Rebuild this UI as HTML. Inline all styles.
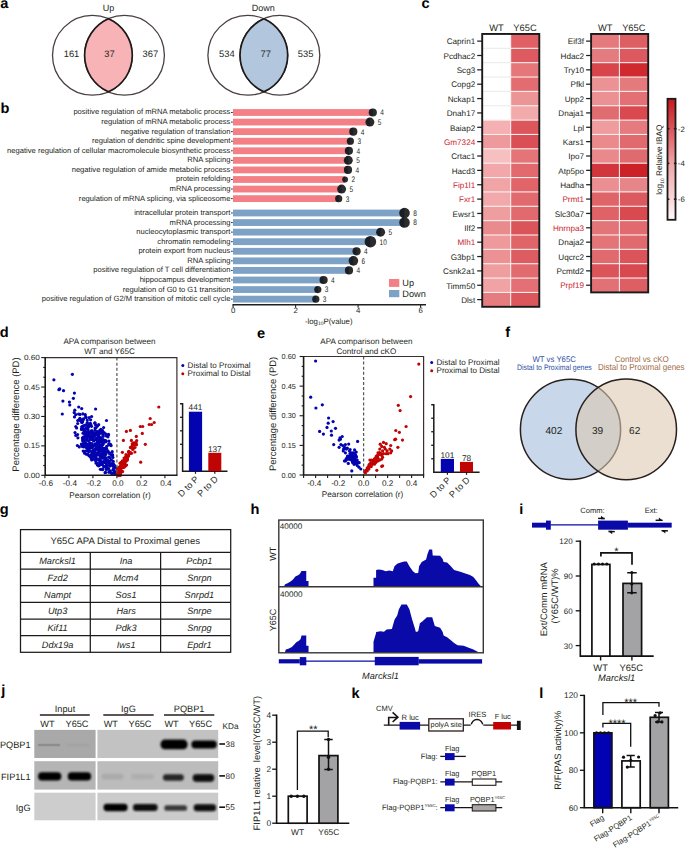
<!DOCTYPE html>
<html><head><meta charset="utf-8"><style>
html,body{margin:0;padding:0;background:#fff;}
svg{display:block;font-family:"Liberation Sans",sans-serif;text-rendering:geometricPrecision;}
</style></head><body>
<svg width="685" height="848" viewBox="0 0 685 848">
<rect width="685" height="848" fill="#fff"/>
<circle cx="92.4" cy="55.3" r="39.9" fill="none" stroke="#4a4040" stroke-width="1.3"/>
<circle cx="124.5" cy="55.3" r="39.9" fill="none" stroke="#4a4040" stroke-width="1.3"/>
<path d="M108.45,18.77 A39.9,39.9 0 0,1 108.45,91.83 A39.9,39.9 0 0,1 108.45,18.77Z" fill="#f8b3b7" stroke="#1e1a1a" stroke-width="1.7"/>
<text x="108.50" y="10.50" font-size="9" text-anchor="middle" fill="#231f20" >Up</text>
<text x="71.50" y="57.20" font-size="9.4" text-anchor="middle" fill="#231f20" >161</text>
<text x="109.50" y="57.20" font-size="9.4" text-anchor="middle" fill="#231f20" >37</text>
<text x="150.40" y="57.20" font-size="9.4" text-anchor="middle" fill="#231f20" >367</text>
<circle cx="247.8" cy="55.3" r="39.9" fill="none" stroke="#4a4040" stroke-width="1.3"/>
<circle cx="279.9" cy="55.3" r="39.9" fill="none" stroke="#4a4040" stroke-width="1.3"/>
<path d="M263.85,18.77 A39.9,39.9 0 0,1 263.85,91.83 A39.9,39.9 0 0,1 263.85,18.77Z" fill="#b2c7dd" stroke="#1e1a1a" stroke-width="1.7"/>
<text x="263.30" y="10.50" font-size="9" text-anchor="middle" fill="#231f20" >Down</text>
<text x="226.90" y="57.20" font-size="9.4" text-anchor="middle" fill="#231f20" >534</text>
<text x="265.70" y="57.20" font-size="9.4" text-anchor="middle" fill="#231f20" >77</text>
<text x="305.70" y="57.20" font-size="9.4" text-anchor="middle" fill="#231f20" >535</text>
<defs><linearGradient id="dg" x1="0" y1="0" x2="1" y2="0"><stop offset="0" stop-color="#1a1f27"/><stop offset="0.46" stop-color="#1a1f27"/><stop offset="0.54" stop-color="#2d2c2c"/><stop offset="1" stop-color="#2d2c2c"/></linearGradient></defs>
<rect x="233.0" y="109.10" width="139.80" height="6.8" fill="#f47f84"/>
<line x1="231.0" y1="112.50" x2="232.8" y2="112.50" stroke="#231f20" stroke-width="0.9"/>
<text x="230.40" y="114.45" font-size="7.6" text-anchor="end" fill="#231f20" >positive regulation of mRNA metabolic process</text>
<circle cx="372.80" cy="112.50" r="4.1" fill="url(#dg)"/>
<text x="380.30" y="115.40" font-size="8.1" fill="#231f20" transform="translate(380.30,0) scale(0.8,1) translate(-380.30,0)">4</text>
<rect x="233.0" y="118.67" width="136.90" height="6.8" fill="#f47f84"/>
<line x1="231.0" y1="122.07" x2="232.8" y2="122.07" stroke="#231f20" stroke-width="0.9"/>
<text x="230.40" y="124.02" font-size="7.6" text-anchor="end" fill="#231f20" >regulation of mRNA metabolic process</text>
<circle cx="369.90" cy="122.07" r="4.5" fill="url(#dg)"/>
<text x="377.80" y="124.97" font-size="8.1" fill="#231f20" transform="translate(377.80,0) scale(0.8,1) translate(-377.80,0)">5</text>
<rect x="233.0" y="128.24" width="120.30" height="6.8" fill="#f47f84"/>
<line x1="231.0" y1="131.64" x2="232.8" y2="131.64" stroke="#231f20" stroke-width="0.9"/>
<text x="230.40" y="133.59" font-size="7.6" text-anchor="end" fill="#231f20" >negative regulation of translation</text>
<circle cx="353.30" cy="131.64" r="4.1" fill="url(#dg)"/>
<text x="360.80" y="134.54" font-size="8.1" fill="#231f20" transform="translate(360.80,0) scale(0.8,1) translate(-360.80,0)">4</text>
<rect x="233.0" y="137.81" width="117.40" height="6.8" fill="#f47f84"/>
<line x1="231.0" y1="141.21" x2="232.8" y2="141.21" stroke="#231f20" stroke-width="0.9"/>
<text x="230.40" y="143.16" font-size="7.6" text-anchor="end" fill="#231f20" >regulation of dendritic spine development</text>
<circle cx="350.40" cy="141.21" r="3.6" fill="url(#dg)"/>
<text x="357.40" y="144.11" font-size="8.1" fill="#231f20" transform="translate(357.40,0) scale(0.8,1) translate(-357.40,0)">3</text>
<rect x="233.0" y="147.38" width="115.90" height="6.8" fill="#f47f84"/>
<line x1="231.0" y1="150.78" x2="232.8" y2="150.78" stroke="#231f20" stroke-width="0.9"/>
<text x="230.40" y="152.73" font-size="7.6" text-anchor="end" fill="#231f20" >negative regulation of cellular macromolecule biosynthetic process</text>
<circle cx="348.90" cy="150.78" r="4.1" fill="url(#dg)"/>
<text x="356.40" y="153.68" font-size="8.1" fill="#231f20" transform="translate(356.40,0) scale(0.8,1) translate(-356.40,0)">4</text>
<rect x="233.0" y="156.95" width="115.30" height="6.8" fill="#f47f84"/>
<line x1="231.0" y1="160.35" x2="232.8" y2="160.35" stroke="#231f20" stroke-width="0.9"/>
<text x="230.40" y="162.30" font-size="7.6" text-anchor="end" fill="#231f20" >RNA splicing</text>
<circle cx="348.30" cy="160.35" r="4.5" fill="url(#dg)"/>
<text x="356.20" y="163.25" font-size="8.1" fill="#231f20" transform="translate(356.20,0) scale(0.8,1) translate(-356.20,0)">5</text>
<rect x="233.0" y="166.52" width="115.00" height="6.8" fill="#f47f84"/>
<line x1="231.0" y1="169.92" x2="232.8" y2="169.92" stroke="#231f20" stroke-width="0.9"/>
<text x="230.40" y="171.87" font-size="7.6" text-anchor="end" fill="#231f20" >negative regulation of amide metabolic process</text>
<circle cx="348.00" cy="169.92" r="4.1" fill="url(#dg)"/>
<text x="355.50" y="172.82" font-size="8.1" fill="#231f20" transform="translate(355.50,0) scale(0.8,1) translate(-355.50,0)">4</text>
<rect x="233.0" y="176.09" width="112.10" height="6.8" fill="#f47f84"/>
<line x1="231.0" y1="179.49" x2="232.8" y2="179.49" stroke="#231f20" stroke-width="0.9"/>
<text x="230.40" y="181.44" font-size="7.6" text-anchor="end" fill="#231f20" >protein refolding</text>
<circle cx="345.10" cy="179.49" r="2.9" fill="url(#dg)"/>
<text x="351.40" y="182.39" font-size="8.1" fill="#231f20" transform="translate(351.40,0) scale(0.8,1) translate(-351.40,0)">2</text>
<rect x="233.0" y="185.66" width="108.60" height="6.8" fill="#f47f84"/>
<line x1="231.0" y1="189.06" x2="232.8" y2="189.06" stroke="#231f20" stroke-width="0.9"/>
<text x="230.40" y="191.01" font-size="7.6" text-anchor="end" fill="#231f20" >mRNA processing</text>
<circle cx="341.60" cy="189.06" r="4.5" fill="url(#dg)"/>
<text x="349.50" y="191.96" font-size="8.1" fill="#231f20" transform="translate(349.50,0) scale(0.8,1) translate(-349.50,0)">5</text>
<rect x="233.0" y="195.23" width="105.70" height="6.8" fill="#f47f84"/>
<line x1="231.0" y1="198.63" x2="232.8" y2="198.63" stroke="#231f20" stroke-width="0.9"/>
<text x="230.40" y="200.58" font-size="7.6" text-anchor="end" fill="#231f20" >regulation of mRNA splicing, via spliceosome</text>
<circle cx="338.70" cy="198.63" r="3.6" fill="url(#dg)"/>
<text x="345.70" y="201.53" font-size="8.1" fill="#231f20" transform="translate(345.70,0) scale(0.8,1) translate(-345.70,0)">3</text>
<rect x="233.0" y="209.60" width="171.50" height="6.8" fill="#7ea2c6"/>
<line x1="231.0" y1="213.00" x2="232.8" y2="213.00" stroke="#231f20" stroke-width="0.9"/>
<text x="230.40" y="214.95" font-size="7.6" text-anchor="end" fill="#231f20" >intracellular protein transport</text>
<circle cx="404.50" cy="213.00" r="5.3" fill="url(#dg)"/>
<text x="413.20" y="215.90" font-size="8.1" fill="#231f20" transform="translate(413.20,0) scale(0.8,1) translate(-413.20,0)">8</text>
<rect x="233.0" y="219.17" width="171.50" height="6.8" fill="#7ea2c6"/>
<line x1="231.0" y1="222.57" x2="232.8" y2="222.57" stroke="#231f20" stroke-width="0.9"/>
<text x="230.40" y="224.52" font-size="7.6" text-anchor="end" fill="#231f20" >mRNA processing</text>
<circle cx="404.50" cy="222.57" r="5.3" fill="url(#dg)"/>
<text x="413.20" y="225.47" font-size="8.1" fill="#231f20" transform="translate(413.20,0) scale(0.8,1) translate(-413.20,0)">8</text>
<rect x="233.0" y="228.74" width="147.60" height="6.8" fill="#7ea2c6"/>
<line x1="231.0" y1="232.14" x2="232.8" y2="232.14" stroke="#231f20" stroke-width="0.9"/>
<text x="230.40" y="234.09" font-size="7.6" text-anchor="end" fill="#231f20" >nucleocytoplasmic transport</text>
<circle cx="380.60" cy="232.14" r="4.5" fill="url(#dg)"/>
<text x="388.50" y="235.04" font-size="8.1" fill="#231f20" transform="translate(388.50,0) scale(0.8,1) translate(-388.50,0)">5</text>
<rect x="233.0" y="238.31" width="137.40" height="6.8" fill="#7ea2c6"/>
<line x1="231.0" y1="241.71" x2="232.8" y2="241.71" stroke="#231f20" stroke-width="0.9"/>
<text x="230.40" y="243.66" font-size="7.6" text-anchor="end" fill="#231f20" >chromatin remodeling</text>
<circle cx="370.40" cy="241.71" r="5.8" fill="url(#dg)"/>
<text x="379.60" y="244.61" font-size="8.1" fill="#231f20" transform="translate(379.60,0) scale(0.8,1) translate(-379.60,0)">10</text>
<rect x="233.0" y="247.88" width="123.60" height="6.8" fill="#7ea2c6"/>
<line x1="231.0" y1="251.28" x2="232.8" y2="251.28" stroke="#231f20" stroke-width="0.9"/>
<text x="230.40" y="253.23" font-size="7.6" text-anchor="end" fill="#231f20" >protein export from nucleus</text>
<circle cx="356.60" cy="251.28" r="4.1" fill="url(#dg)"/>
<text x="364.10" y="254.18" font-size="8.1" fill="#231f20" transform="translate(364.10,0) scale(0.8,1) translate(-364.10,0)">4</text>
<rect x="233.0" y="257.45" width="120.40" height="6.8" fill="#7ea2c6"/>
<line x1="231.0" y1="260.85" x2="232.8" y2="260.85" stroke="#231f20" stroke-width="0.9"/>
<text x="230.40" y="262.80" font-size="7.6" text-anchor="end" fill="#231f20" >RNA splicing</text>
<circle cx="353.40" cy="260.85" r="4.8" fill="url(#dg)"/>
<text x="361.60" y="263.75" font-size="8.1" fill="#231f20" transform="translate(361.60,0) scale(0.8,1) translate(-361.60,0)">6</text>
<rect x="233.0" y="267.02" width="116.00" height="6.8" fill="#7ea2c6"/>
<line x1="231.0" y1="270.42" x2="232.8" y2="270.42" stroke="#231f20" stroke-width="0.9"/>
<text x="230.40" y="272.37" font-size="7.6" text-anchor="end" fill="#231f20" >positive regulation of T cell differentiation</text>
<circle cx="349.00" cy="270.42" r="4.1" fill="url(#dg)"/>
<text x="356.50" y="273.32" font-size="8.1" fill="#231f20" transform="translate(356.50,0) scale(0.8,1) translate(-356.50,0)">4</text>
<rect x="233.0" y="276.59" width="90.60" height="6.8" fill="#7ea2c6"/>
<line x1="231.0" y1="279.99" x2="232.8" y2="279.99" stroke="#231f20" stroke-width="0.9"/>
<text x="230.40" y="281.94" font-size="7.6" text-anchor="end" fill="#231f20" >hippocampus development</text>
<circle cx="323.60" cy="279.99" r="4.1" fill="url(#dg)"/>
<text x="331.10" y="282.89" font-size="8.1" fill="#231f20" transform="translate(331.10,0) scale(0.8,1) translate(-331.10,0)">4</text>
<rect x="233.0" y="286.16" width="84.80" height="6.8" fill="#7ea2c6"/>
<line x1="231.0" y1="289.56" x2="232.8" y2="289.56" stroke="#231f20" stroke-width="0.9"/>
<text x="230.40" y="291.51" font-size="7.6" text-anchor="end" fill="#231f20" >regulation of G0 to G1 transition</text>
<circle cx="317.80" cy="289.56" r="3.6" fill="url(#dg)"/>
<text x="324.80" y="292.46" font-size="8.1" fill="#231f20" transform="translate(324.80,0) scale(0.8,1) translate(-324.80,0)">3</text>
<rect x="233.0" y="295.73" width="82.80" height="6.8" fill="#7ea2c6"/>
<line x1="231.0" y1="299.13" x2="232.8" y2="299.13" stroke="#231f20" stroke-width="0.9"/>
<text x="230.40" y="301.08" font-size="7.6" text-anchor="end" fill="#231f20" >positive regulation of G2/M transition of mitotic cell cycle</text>
<circle cx="315.80" cy="299.13" r="3.6" fill="url(#dg)"/>
<text x="322.80" y="302.03" font-size="8.1" fill="#231f20" transform="translate(322.80,0) scale(0.8,1) translate(-322.80,0)">3</text>
<line x1="232.5" y1="304.7" x2="426" y2="304.7" stroke="#231f20" stroke-width="1.6"/>
<line x1="233" y1="208" x2="233" y2="304.3" stroke="#231f20" stroke-width="0"/>
<line x1="233.10" y1="304.7" x2="233.10" y2="307.8" stroke="#231f20" stroke-width="1.1"/>
<text x="233.10" y="313.30" font-size="7.8" text-anchor="middle" fill="#231f20" >0</text>
<line x1="295.60" y1="304.7" x2="295.60" y2="307.8" stroke="#231f20" stroke-width="1.1"/>
<text x="295.60" y="313.30" font-size="7.8" text-anchor="middle" fill="#231f20" >2</text>
<line x1="358.10" y1="304.7" x2="358.10" y2="307.8" stroke="#231f20" stroke-width="1.1"/>
<text x="358.10" y="313.30" font-size="7.8" text-anchor="middle" fill="#231f20" >4</text>
<line x1="420.60" y1="304.7" x2="420.60" y2="307.8" stroke="#231f20" stroke-width="1.1"/>
<text x="420.60" y="313.30" font-size="7.8" text-anchor="middle" fill="#231f20" >6</text>
<text x="328.70" y="323.50" font-size="7.8" text-anchor="middle" fill="#231f20" >-log<tspan font-size="5" dy="1.8">10</tspan><tspan dy="-1.8">P(value)</tspan></text>
<rect x="389" y="279" width="10.3" height="7.9" fill="#f47f84"/>
<rect x="389" y="290" width="10.3" height="7.2" fill="#7ea2c6"/>
<text x="402.30" y="286.30" font-size="9.2" text-anchor="start" fill="#231f20" >Up</text>
<text x="402.30" y="297.30" font-size="9.2" text-anchor="start" fill="#231f20" >Down</text>
<rect x="482.20" y="33.95" width="28.50" height="14.36" fill="#ffffff"/>
<rect x="510.70" y="33.95" width="28.60" height="14.36" fill="#e06066"/>
<line x1="477.20" y1="41.13" x2="482.20" y2="41.13" stroke="#231f20" stroke-width="1.25"/>
<text x="475.20" y="44.38" font-size="8.15" text-anchor="end" fill="#231f20" >Caprin1</text>
<rect x="482.20" y="48.31" width="28.50" height="14.36" fill="#ffffff"/>
<rect x="510.70" y="48.31" width="28.60" height="14.36" fill="#dc5a60"/>
<line x1="477.20" y1="55.49" x2="482.20" y2="55.49" stroke="#231f20" stroke-width="1.25"/>
<text x="475.20" y="58.74" font-size="8.15" text-anchor="end" fill="#231f20" >Pcdhac2</text>
<rect x="482.20" y="62.67" width="28.50" height="14.36" fill="#ffffff"/>
<rect x="510.70" y="62.67" width="28.60" height="14.36" fill="#e5767a"/>
<line x1="477.20" y1="69.85" x2="482.20" y2="69.85" stroke="#231f20" stroke-width="1.25"/>
<text x="475.20" y="73.10" font-size="8.15" text-anchor="end" fill="#231f20" >Scg3</text>
<rect x="482.20" y="77.03" width="28.50" height="14.36" fill="#ffffff"/>
<rect x="510.70" y="77.03" width="28.60" height="14.36" fill="#e26c70"/>
<line x1="477.20" y1="84.21" x2="482.20" y2="84.21" stroke="#231f20" stroke-width="1.25"/>
<text x="475.20" y="87.46" font-size="8.15" text-anchor="end" fill="#231f20" >Copg2</text>
<rect x="482.20" y="91.39" width="28.50" height="14.36" fill="#ffffff"/>
<rect x="510.70" y="91.39" width="28.60" height="14.36" fill="#ec9597"/>
<line x1="477.20" y1="98.57" x2="482.20" y2="98.57" stroke="#231f20" stroke-width="1.25"/>
<text x="475.20" y="101.82" font-size="8.15" text-anchor="end" fill="#231f20" >Nckap1</text>
<rect x="482.20" y="105.75" width="28.50" height="14.36" fill="#ffffff"/>
<rect x="510.70" y="105.75" width="28.60" height="14.36" fill="#f2aaab"/>
<line x1="477.20" y1="112.93" x2="482.20" y2="112.93" stroke="#231f20" stroke-width="1.25"/>
<text x="475.20" y="116.18" font-size="8.15" text-anchor="end" fill="#231f20" >Dnah17</text>
<rect x="482.20" y="120.11" width="28.50" height="14.36" fill="#f4b0b2"/>
<rect x="510.70" y="120.11" width="28.60" height="14.36" fill="#db575c"/>
<line x1="477.20" y1="127.29" x2="482.20" y2="127.29" stroke="#231f20" stroke-width="1.25"/>
<text x="475.20" y="130.54" font-size="8.15" text-anchor="end" fill="#231f20" >Baiap2</text>
<rect x="482.20" y="134.47" width="28.50" height="14.36" fill="#ee999b"/>
<rect x="510.70" y="134.47" width="28.60" height="14.36" fill="#d94f55"/>
<line x1="477.20" y1="141.65" x2="482.20" y2="141.65" stroke="#231f20" stroke-width="1.25"/>
<text x="475.20" y="144.90" font-size="8.15" text-anchor="end" fill="#c9252c" >Gm7324</text>
<rect x="482.20" y="148.83" width="28.50" height="14.36" fill="#f6c0c1"/>
<rect x="510.70" y="148.83" width="28.60" height="14.36" fill="#e57478"/>
<line x1="477.20" y1="156.01" x2="482.20" y2="156.01" stroke="#231f20" stroke-width="1.25"/>
<text x="475.20" y="159.26" font-size="8.15" text-anchor="end" fill="#231f20" >Crtac1</text>
<rect x="482.20" y="163.19" width="28.50" height="14.36" fill="#f2a8aa"/>
<rect x="510.70" y="163.19" width="28.60" height="14.36" fill="#e26a6e"/>
<line x1="477.20" y1="170.38" x2="482.20" y2="170.38" stroke="#231f20" stroke-width="1.25"/>
<text x="475.20" y="173.62" font-size="8.15" text-anchor="end" fill="#231f20" >Hacd3</text>
<rect x="482.20" y="177.56" width="28.50" height="14.36" fill="#f1a4a6"/>
<rect x="510.70" y="177.56" width="28.60" height="14.36" fill="#e06468"/>
<line x1="477.20" y1="184.74" x2="482.20" y2="184.74" stroke="#231f20" stroke-width="1.25"/>
<text x="475.20" y="187.99" font-size="8.15" text-anchor="end" fill="#c9252c" >Fip1l1</text>
<rect x="482.20" y="191.92" width="28.50" height="14.36" fill="#f2a9ab"/>
<rect x="510.70" y="191.92" width="28.60" height="14.36" fill="#e16a6e"/>
<line x1="477.20" y1="199.10" x2="482.20" y2="199.10" stroke="#231f20" stroke-width="1.25"/>
<text x="475.20" y="202.35" font-size="8.15" text-anchor="end" fill="#c9252c" >Fxr1</text>
<rect x="482.20" y="206.28" width="28.50" height="14.36" fill="#ef9ea0"/>
<rect x="510.70" y="206.28" width="28.60" height="14.36" fill="#e16a6e"/>
<line x1="477.20" y1="213.46" x2="482.20" y2="213.46" stroke="#231f20" stroke-width="1.25"/>
<text x="475.20" y="216.71" font-size="8.15" text-anchor="end" fill="#231f20" >Ewsr1</text>
<rect x="482.20" y="220.64" width="28.50" height="14.36" fill="#e98a8d"/>
<rect x="510.70" y="220.64" width="28.60" height="14.36" fill="#da555a"/>
<line x1="477.20" y1="227.82" x2="482.20" y2="227.82" stroke="#231f20" stroke-width="1.25"/>
<text x="475.20" y="231.07" font-size="8.15" text-anchor="end" fill="#231f20" >Ilf2</text>
<rect x="482.20" y="235.00" width="28.50" height="14.36" fill="#ee9a9c"/>
<rect x="510.70" y="235.00" width="28.60" height="14.36" fill="#df6569"/>
<line x1="477.20" y1="242.18" x2="482.20" y2="242.18" stroke="#231f20" stroke-width="1.25"/>
<text x="475.20" y="245.43" font-size="8.15" text-anchor="end" fill="#c9252c" >Mlh1</text>
<rect x="482.20" y="249.36" width="28.50" height="14.36" fill="#ec9295"/>
<rect x="510.70" y="249.36" width="28.60" height="14.36" fill="#dc5c61"/>
<line x1="477.20" y1="256.54" x2="482.20" y2="256.54" stroke="#231f20" stroke-width="1.25"/>
<text x="475.20" y="259.79" font-size="8.15" text-anchor="end" fill="#231f20" >G3bp1</text>
<rect x="482.20" y="263.72" width="28.50" height="14.36" fill="#ef9ea0"/>
<rect x="510.70" y="263.72" width="28.60" height="14.36" fill="#e16b6f"/>
<line x1="477.20" y1="270.90" x2="482.20" y2="270.90" stroke="#231f20" stroke-width="1.25"/>
<text x="475.20" y="274.15" font-size="8.15" text-anchor="end" fill="#231f20" >Csnk2a1</text>
<rect x="482.20" y="278.08" width="28.50" height="14.36" fill="#f0a2a4"/>
<rect x="510.70" y="278.08" width="28.60" height="14.36" fill="#e37074"/>
<line x1="477.20" y1="285.26" x2="482.20" y2="285.26" stroke="#231f20" stroke-width="1.25"/>
<text x="475.20" y="288.51" font-size="8.15" text-anchor="end" fill="#231f20" >Timm50</text>
<rect x="482.20" y="292.44" width="28.50" height="14.36" fill="#e57c80"/>
<rect x="510.70" y="292.44" width="28.60" height="14.36" fill="#db575c"/>
<line x1="477.20" y1="299.62" x2="482.20" y2="299.62" stroke="#231f20" stroke-width="1.25"/>
<text x="475.20" y="302.87" font-size="8.15" text-anchor="end" fill="#231f20" >Dlst</text>
<line x1="482.20" y1="48.31" x2="510.70" y2="48.31" stroke="#ebebeb" stroke-width="1.1"/>
<line x1="510.70" y1="48.31" x2="539.30" y2="48.31" stroke="#fbeeee" stroke-width="1.1"/>
<line x1="482.20" y1="62.67" x2="510.70" y2="62.67" stroke="#ebebeb" stroke-width="1.1"/>
<line x1="510.70" y1="62.67" x2="539.30" y2="62.67" stroke="#fbeeee" stroke-width="1.1"/>
<line x1="482.20" y1="77.03" x2="510.70" y2="77.03" stroke="#ebebeb" stroke-width="1.1"/>
<line x1="510.70" y1="77.03" x2="539.30" y2="77.03" stroke="#fbeeee" stroke-width="1.1"/>
<line x1="482.20" y1="91.39" x2="510.70" y2="91.39" stroke="#ebebeb" stroke-width="1.1"/>
<line x1="510.70" y1="91.39" x2="539.30" y2="91.39" stroke="#fbeeee" stroke-width="1.1"/>
<line x1="482.20" y1="105.75" x2="510.70" y2="105.75" stroke="#ebebeb" stroke-width="1.1"/>
<line x1="510.70" y1="105.75" x2="539.30" y2="105.75" stroke="#fbeeee" stroke-width="1.1"/>
<line x1="482.20" y1="120.11" x2="510.70" y2="120.11" stroke="#fbeeee" stroke-width="1.1"/>
<line x1="510.70" y1="120.11" x2="539.30" y2="120.11" stroke="#fbeeee" stroke-width="1.1"/>
<line x1="482.20" y1="134.47" x2="510.70" y2="134.47" stroke="#fbeeee" stroke-width="1.1"/>
<line x1="510.70" y1="134.47" x2="539.30" y2="134.47" stroke="#fbeeee" stroke-width="1.1"/>
<line x1="482.20" y1="148.83" x2="510.70" y2="148.83" stroke="#fbeeee" stroke-width="1.1"/>
<line x1="510.70" y1="148.83" x2="539.30" y2="148.83" stroke="#fbeeee" stroke-width="1.1"/>
<line x1="482.20" y1="163.19" x2="510.70" y2="163.19" stroke="#fbeeee" stroke-width="1.1"/>
<line x1="510.70" y1="163.19" x2="539.30" y2="163.19" stroke="#fbeeee" stroke-width="1.1"/>
<line x1="482.20" y1="177.56" x2="510.70" y2="177.56" stroke="#fbeeee" stroke-width="1.1"/>
<line x1="510.70" y1="177.56" x2="539.30" y2="177.56" stroke="#fbeeee" stroke-width="1.1"/>
<line x1="482.20" y1="191.92" x2="510.70" y2="191.92" stroke="#fbeeee" stroke-width="1.1"/>
<line x1="510.70" y1="191.92" x2="539.30" y2="191.92" stroke="#fbeeee" stroke-width="1.1"/>
<line x1="482.20" y1="206.28" x2="510.70" y2="206.28" stroke="#fbeeee" stroke-width="1.1"/>
<line x1="510.70" y1="206.28" x2="539.30" y2="206.28" stroke="#fbeeee" stroke-width="1.1"/>
<line x1="482.20" y1="220.64" x2="510.70" y2="220.64" stroke="#fbeeee" stroke-width="1.1"/>
<line x1="510.70" y1="220.64" x2="539.30" y2="220.64" stroke="#fbeeee" stroke-width="1.1"/>
<line x1="482.20" y1="235.00" x2="510.70" y2="235.00" stroke="#fbeeee" stroke-width="1.1"/>
<line x1="510.70" y1="235.00" x2="539.30" y2="235.00" stroke="#fbeeee" stroke-width="1.1"/>
<line x1="482.20" y1="249.36" x2="510.70" y2="249.36" stroke="#fbeeee" stroke-width="1.1"/>
<line x1="510.70" y1="249.36" x2="539.30" y2="249.36" stroke="#fbeeee" stroke-width="1.1"/>
<line x1="482.20" y1="263.72" x2="510.70" y2="263.72" stroke="#fbeeee" stroke-width="1.1"/>
<line x1="510.70" y1="263.72" x2="539.30" y2="263.72" stroke="#fbeeee" stroke-width="1.1"/>
<line x1="482.20" y1="278.08" x2="510.70" y2="278.08" stroke="#fbeeee" stroke-width="1.1"/>
<line x1="510.70" y1="278.08" x2="539.30" y2="278.08" stroke="#fbeeee" stroke-width="1.1"/>
<line x1="482.20" y1="292.44" x2="510.70" y2="292.44" stroke="#fbeeee" stroke-width="1.1"/>
<line x1="510.70" y1="292.44" x2="539.30" y2="292.44" stroke="#fbeeee" stroke-width="1.1"/>
<line x1="510.70" y1="33.95" x2="510.70" y2="306.80" stroke="#fdf3f3" stroke-width="1.0"/>
<rect x="482.20" y="33.95" width="57.10" height="272.85" fill="none" stroke="#1a1a1a" stroke-width="1.9"/>
<text x="496.45" y="31.35" font-size="9.3" text-anchor="middle" fill="#231f20" >WT</text>
<text x="525.00" y="31.35" font-size="9.3" text-anchor="middle" fill="#231f20" >Y65C</text>
<rect x="591.10" y="33.95" width="28.30" height="14.36" fill="#e47a7e"/>
<rect x="619.40" y="33.95" width="28.80" height="14.36" fill="#dd5e63"/>
<line x1="586.10" y1="41.13" x2="591.10" y2="41.13" stroke="#231f20" stroke-width="1.25"/>
<text x="584.10" y="44.38" font-size="8.15" text-anchor="end" fill="#231f20" >Eif3f</text>
<rect x="591.10" y="48.31" width="28.30" height="14.36" fill="#e47b7f"/>
<rect x="619.40" y="48.31" width="28.80" height="14.36" fill="#dc5a5f"/>
<line x1="586.10" y1="55.49" x2="591.10" y2="55.49" stroke="#231f20" stroke-width="1.25"/>
<text x="584.10" y="58.74" font-size="8.15" text-anchor="end" fill="#231f20" >Hdac2</text>
<rect x="591.10" y="62.67" width="28.30" height="14.36" fill="#d8464c"/>
<rect x="619.40" y="62.67" width="28.80" height="14.36" fill="#d02a30"/>
<line x1="586.10" y1="69.85" x2="591.10" y2="69.85" stroke="#231f20" stroke-width="1.25"/>
<text x="584.10" y="73.10" font-size="8.15" text-anchor="end" fill="#231f20" >Try10</text>
<rect x="591.10" y="77.03" width="28.30" height="14.36" fill="#ec9294"/>
<rect x="619.40" y="77.03" width="28.80" height="14.36" fill="#e57a7d"/>
<line x1="586.10" y1="84.20" x2="591.10" y2="84.20" stroke="#231f20" stroke-width="1.25"/>
<text x="584.10" y="87.45" font-size="8.15" text-anchor="end" fill="#231f20" >Pfkl</text>
<rect x="591.10" y="91.38" width="28.30" height="14.36" fill="#eb9093"/>
<rect x="619.40" y="91.38" width="28.80" height="14.36" fill="#e27074"/>
<line x1="586.10" y1="98.56" x2="591.10" y2="98.56" stroke="#231f20" stroke-width="1.25"/>
<text x="584.10" y="101.81" font-size="8.15" text-anchor="end" fill="#231f20" >Upp2</text>
<rect x="591.10" y="105.74" width="28.30" height="14.36" fill="#e06c70"/>
<rect x="619.40" y="105.74" width="28.80" height="14.36" fill="#d9494f"/>
<line x1="586.10" y1="112.92" x2="591.10" y2="112.92" stroke="#231f20" stroke-width="1.25"/>
<text x="584.10" y="116.17" font-size="8.15" text-anchor="end" fill="#231f20" >Dnaja1</text>
<rect x="591.10" y="120.10" width="28.30" height="14.36" fill="#ef9c9e"/>
<rect x="619.40" y="120.10" width="28.80" height="14.36" fill="#e67b7f"/>
<line x1="586.10" y1="127.28" x2="591.10" y2="127.28" stroke="#231f20" stroke-width="1.25"/>
<text x="584.10" y="130.53" font-size="8.15" text-anchor="end" fill="#231f20" >Lpl</text>
<rect x="591.10" y="134.46" width="28.30" height="14.36" fill="#ea8a8d"/>
<rect x="619.40" y="134.46" width="28.80" height="14.36" fill="#e06a6e"/>
<line x1="586.10" y1="141.64" x2="591.10" y2="141.64" stroke="#231f20" stroke-width="1.25"/>
<text x="584.10" y="144.89" font-size="8.15" text-anchor="end" fill="#231f20" >Kars1</text>
<rect x="591.10" y="148.82" width="28.30" height="14.36" fill="#ea898c"/>
<rect x="619.40" y="148.82" width="28.80" height="14.36" fill="#e06b6f"/>
<line x1="586.10" y1="156.00" x2="591.10" y2="156.00" stroke="#231f20" stroke-width="1.25"/>
<text x="584.10" y="159.25" font-size="8.15" text-anchor="end" fill="#231f20" >Ipo7</text>
<rect x="591.10" y="163.18" width="28.30" height="14.36" fill="#d2353b"/>
<rect x="619.40" y="163.18" width="28.80" height="14.36" fill="#cd2128"/>
<line x1="586.10" y1="170.35" x2="591.10" y2="170.35" stroke="#231f20" stroke-width="1.25"/>
<text x="584.10" y="173.60" font-size="8.15" text-anchor="end" fill="#231f20" >Atp5po</text>
<rect x="591.10" y="177.53" width="28.30" height="14.36" fill="#eb8f92"/>
<rect x="619.40" y="177.53" width="28.80" height="14.36" fill="#e7868a"/>
<line x1="586.10" y1="184.71" x2="591.10" y2="184.71" stroke="#231f20" stroke-width="1.25"/>
<text x="584.10" y="187.96" font-size="8.15" text-anchor="end" fill="#231f20" >Hadha</text>
<rect x="591.10" y="191.89" width="28.30" height="14.36" fill="#de6468"/>
<rect x="619.40" y="191.89" width="28.80" height="14.36" fill="#db5a5f"/>
<line x1="586.10" y1="199.07" x2="591.10" y2="199.07" stroke="#231f20" stroke-width="1.25"/>
<text x="584.10" y="202.32" font-size="8.15" text-anchor="end" fill="#c9252c" >Prmt1</text>
<rect x="591.10" y="206.25" width="28.30" height="14.36" fill="#de6266"/>
<rect x="619.40" y="206.25" width="28.80" height="14.36" fill="#d84a50"/>
<line x1="586.10" y1="213.43" x2="591.10" y2="213.43" stroke="#231f20" stroke-width="1.25"/>
<text x="584.10" y="216.68" font-size="8.15" text-anchor="end" fill="#231f20" >Slc30a7</text>
<rect x="591.10" y="220.61" width="28.30" height="14.36" fill="#e37478"/>
<rect x="619.40" y="220.61" width="28.80" height="14.36" fill="#e06a6e"/>
<line x1="586.10" y1="227.79" x2="591.10" y2="227.79" stroke="#231f20" stroke-width="1.25"/>
<text x="584.10" y="231.04" font-size="8.15" text-anchor="end" fill="#c9252c" >Hnrnpa3</text>
<rect x="591.10" y="234.97" width="28.30" height="14.36" fill="#e37579"/>
<rect x="619.40" y="234.97" width="28.80" height="14.36" fill="#e06a6e"/>
<line x1="586.10" y1="242.15" x2="591.10" y2="242.15" stroke="#231f20" stroke-width="1.25"/>
<text x="584.10" y="245.40" font-size="8.15" text-anchor="end" fill="#231f20" >Dnaja2</text>
<rect x="591.10" y="249.32" width="28.30" height="14.36" fill="#e06a6e"/>
<rect x="619.40" y="249.32" width="28.80" height="14.36" fill="#da5459"/>
<line x1="586.10" y1="256.50" x2="591.10" y2="256.50" stroke="#231f20" stroke-width="1.25"/>
<text x="584.10" y="259.75" font-size="8.15" text-anchor="end" fill="#231f20" >Uqcrc2</text>
<rect x="591.10" y="263.68" width="28.30" height="14.36" fill="#da5459"/>
<rect x="619.40" y="263.68" width="28.80" height="14.36" fill="#d8494f"/>
<line x1="586.10" y1="270.86" x2="591.10" y2="270.86" stroke="#231f20" stroke-width="1.25"/>
<text x="584.10" y="274.11" font-size="8.15" text-anchor="end" fill="#231f20" >Pcmtd2</text>
<rect x="591.10" y="278.04" width="28.30" height="14.36" fill="#e27175"/>
<rect x="619.40" y="278.04" width="28.80" height="14.36" fill="#dd5f64"/>
<line x1="586.10" y1="285.22" x2="591.10" y2="285.22" stroke="#231f20" stroke-width="1.25"/>
<text x="584.10" y="288.47" font-size="8.15" text-anchor="end" fill="#c9252c" >Prpf19</text>
<line x1="591.10" y1="48.31" x2="619.40" y2="48.31" stroke="#fbeeee" stroke-width="1.1"/>
<line x1="619.40" y1="48.31" x2="648.20" y2="48.31" stroke="#fbeeee" stroke-width="1.1"/>
<line x1="591.10" y1="62.67" x2="619.40" y2="62.67" stroke="#fbeeee" stroke-width="1.1"/>
<line x1="619.40" y1="62.67" x2="648.20" y2="62.67" stroke="#fbeeee" stroke-width="1.1"/>
<line x1="591.10" y1="77.03" x2="619.40" y2="77.03" stroke="#fbeeee" stroke-width="1.1"/>
<line x1="619.40" y1="77.03" x2="648.20" y2="77.03" stroke="#fbeeee" stroke-width="1.1"/>
<line x1="591.10" y1="91.38" x2="619.40" y2="91.38" stroke="#fbeeee" stroke-width="1.1"/>
<line x1="619.40" y1="91.38" x2="648.20" y2="91.38" stroke="#fbeeee" stroke-width="1.1"/>
<line x1="591.10" y1="105.74" x2="619.40" y2="105.74" stroke="#fbeeee" stroke-width="1.1"/>
<line x1="619.40" y1="105.74" x2="648.20" y2="105.74" stroke="#fbeeee" stroke-width="1.1"/>
<line x1="591.10" y1="120.10" x2="619.40" y2="120.10" stroke="#fbeeee" stroke-width="1.1"/>
<line x1="619.40" y1="120.10" x2="648.20" y2="120.10" stroke="#fbeeee" stroke-width="1.1"/>
<line x1="591.10" y1="134.46" x2="619.40" y2="134.46" stroke="#fbeeee" stroke-width="1.1"/>
<line x1="619.40" y1="134.46" x2="648.20" y2="134.46" stroke="#fbeeee" stroke-width="1.1"/>
<line x1="591.10" y1="148.82" x2="619.40" y2="148.82" stroke="#fbeeee" stroke-width="1.1"/>
<line x1="619.40" y1="148.82" x2="648.20" y2="148.82" stroke="#fbeeee" stroke-width="1.1"/>
<line x1="591.10" y1="163.18" x2="619.40" y2="163.18" stroke="#fbeeee" stroke-width="1.1"/>
<line x1="619.40" y1="163.18" x2="648.20" y2="163.18" stroke="#fbeeee" stroke-width="1.1"/>
<line x1="591.10" y1="177.53" x2="619.40" y2="177.53" stroke="#fbeeee" stroke-width="1.1"/>
<line x1="619.40" y1="177.53" x2="648.20" y2="177.53" stroke="#fbeeee" stroke-width="1.1"/>
<line x1="591.10" y1="191.89" x2="619.40" y2="191.89" stroke="#fbeeee" stroke-width="1.1"/>
<line x1="619.40" y1="191.89" x2="648.20" y2="191.89" stroke="#fbeeee" stroke-width="1.1"/>
<line x1="591.10" y1="206.25" x2="619.40" y2="206.25" stroke="#fbeeee" stroke-width="1.1"/>
<line x1="619.40" y1="206.25" x2="648.20" y2="206.25" stroke="#fbeeee" stroke-width="1.1"/>
<line x1="591.10" y1="220.61" x2="619.40" y2="220.61" stroke="#fbeeee" stroke-width="1.1"/>
<line x1="619.40" y1="220.61" x2="648.20" y2="220.61" stroke="#fbeeee" stroke-width="1.1"/>
<line x1="591.10" y1="234.97" x2="619.40" y2="234.97" stroke="#fbeeee" stroke-width="1.1"/>
<line x1="619.40" y1="234.97" x2="648.20" y2="234.97" stroke="#fbeeee" stroke-width="1.1"/>
<line x1="591.10" y1="249.32" x2="619.40" y2="249.32" stroke="#fbeeee" stroke-width="1.1"/>
<line x1="619.40" y1="249.32" x2="648.20" y2="249.32" stroke="#fbeeee" stroke-width="1.1"/>
<line x1="591.10" y1="263.68" x2="619.40" y2="263.68" stroke="#fbeeee" stroke-width="1.1"/>
<line x1="619.40" y1="263.68" x2="648.20" y2="263.68" stroke="#fbeeee" stroke-width="1.1"/>
<line x1="591.10" y1="278.04" x2="619.40" y2="278.04" stroke="#fbeeee" stroke-width="1.1"/>
<line x1="619.40" y1="278.04" x2="648.20" y2="278.04" stroke="#fbeeee" stroke-width="1.1"/>
<line x1="619.40" y1="33.95" x2="619.40" y2="292.40" stroke="#fdf3f3" stroke-width="1.0"/>
<rect x="591.10" y="33.95" width="57.10" height="258.45" fill="none" stroke="#1a1a1a" stroke-width="1.9"/>
<text x="605.25" y="31.35" font-size="9.3" text-anchor="middle" fill="#231f20" >WT</text>
<text x="633.80" y="31.35" font-size="9.3" text-anchor="middle" fill="#231f20" >Y65C</text>
<defs><linearGradient id="cb" x1="0" y1="0" x2="0" y2="1"><stop offset="0" stop-color="#c8161e"/><stop offset="0.247" stop-color="#d9555b"/><stop offset="0.534" stop-color="#f0a5a8"/><stop offset="0.83" stop-color="#fad7d9"/><stop offset="1" stop-color="#fffafa"/></linearGradient></defs>
<rect x="667.5" y="98.8" width="8" height="121" fill="url(#cb)" stroke="#1a1a1a" stroke-width="1.8"/>
<line x1="667.0" y1="128.7" x2="669.4" y2="128.7" stroke="#1a1a1a" stroke-width="1.5"/>
<line x1="673.9" y1="128.7" x2="676.5" y2="128.7" stroke="#1a1a1a" stroke-width="1.5"/>
<text x="677.80" y="131.50" font-size="7.8" text-anchor="start" fill="#231f20" >-2</text>
<line x1="667.0" y1="163.4" x2="669.4" y2="163.4" stroke="#1a1a1a" stroke-width="1.5"/>
<line x1="673.9" y1="163.4" x2="676.5" y2="163.4" stroke="#1a1a1a" stroke-width="1.5"/>
<text x="677.80" y="166.20" font-size="7.8" text-anchor="start" fill="#231f20" >-4</text>
<line x1="667.0" y1="199.2" x2="669.4" y2="199.2" stroke="#1a1a1a" stroke-width="1.5"/>
<line x1="673.9" y1="199.2" x2="676.5" y2="199.2" stroke="#1a1a1a" stroke-width="1.5"/>
<text x="677.80" y="202.00" font-size="7.8" text-anchor="start" fill="#231f20" >-6</text>
<text transform="translate(662.3,159.7) rotate(-90)" font-size="8.2" text-anchor="middle" fill="#231f20">log<tspan font-size="5" dy="1.8">10</tspan><tspan dy="-1.8"> Relative IBAQ</tspan></text>
<text x="421.50" y="7.90" font-size="14.6" text-anchor="start" fill="#000" font-weight="bold">c</text>
<circle cx="53.9" cy="379.8" r="1.6" fill="#0303b0"/>
<circle cx="72.4" cy="374.3" r="1.6" fill="#0303b0"/>
<circle cx="58.9" cy="389.7" r="1.6" fill="#0303b0"/>
<circle cx="59.7" cy="388.9" r="1.6" fill="#0303b0"/>
<circle cx="63.5" cy="390.7" r="1.6" fill="#0303b0"/>
<circle cx="74.4" cy="393.1" r="1.6" fill="#0303b0"/>
<circle cx="73.4" cy="398.3" r="1.6" fill="#0303b0"/>
<circle cx="62.9" cy="401.1" r="1.6" fill="#0303b0"/>
<circle cx="69.4" cy="402.1" r="1.6" fill="#0303b0"/>
<circle cx="69.8" cy="405.0" r="1.6" fill="#0303b0"/>
<circle cx="62.3" cy="414.0" r="1.6" fill="#0303b0"/>
<circle cx="78.7" cy="407.0" r="1.6" fill="#0303b0"/>
<circle cx="81.7" cy="408.6" r="1.6" fill="#0303b0"/>
<circle cx="95.6" cy="409.0" r="1.6" fill="#0303b0"/>
<circle cx="74.8" cy="410.2" r="1.6" fill="#0303b0"/>
<circle cx="74.2" cy="412.6" r="1.6" fill="#0303b0"/>
<circle cx="75.8" cy="414.6" r="1.6" fill="#0303b0"/>
<circle cx="106.5" cy="420.5" r="1.6" fill="#0303b0"/>
<circle cx="103.6" cy="427.5" r="1.6" fill="#0303b0"/>
<circle cx="108.5" cy="434.4" r="1.6" fill="#0303b0"/>
<circle cx="75.8" cy="426.5" r="1.6" fill="#0303b0"/>
<circle cx="75.8" cy="435.4" r="1.6" fill="#0303b0"/>
<circle cx="91.6" cy="416.5" r="1.6" fill="#0303b0"/>
<circle cx="85.7" cy="416.9" r="1.6" fill="#0303b0"/>
<circle cx="95.1" cy="449.7" r="1.6" fill="#0303b0"/>
<circle cx="104.6" cy="451.7" r="1.6" fill="#0303b0"/>
<circle cx="93.0" cy="456.3" r="1.6" fill="#0303b0"/>
<circle cx="84.1" cy="425.5" r="1.6" fill="#0303b0"/>
<circle cx="108.7" cy="457.2" r="1.6" fill="#0303b0"/>
<circle cx="83.2" cy="444.9" r="1.6" fill="#0303b0"/>
<circle cx="110.1" cy="457.8" r="1.6" fill="#0303b0"/>
<circle cx="99.8" cy="460.0" r="1.6" fill="#0303b0"/>
<circle cx="83.2" cy="451.1" r="1.6" fill="#0303b0"/>
<circle cx="89.0" cy="425.5" r="1.6" fill="#0303b0"/>
<circle cx="88.6" cy="447.8" r="1.6" fill="#0303b0"/>
<circle cx="99.1" cy="445.8" r="1.6" fill="#0303b0"/>
<circle cx="110.5" cy="444.4" r="1.6" fill="#0303b0"/>
<circle cx="91.7" cy="436.0" r="1.6" fill="#0303b0"/>
<circle cx="100.4" cy="441.4" r="1.6" fill="#0303b0"/>
<circle cx="113.8" cy="465.9" r="1.6" fill="#0303b0"/>
<circle cx="79.9" cy="418.3" r="1.6" fill="#0303b0"/>
<circle cx="102.2" cy="445.2" r="1.6" fill="#0303b0"/>
<circle cx="98.7" cy="451.2" r="1.6" fill="#0303b0"/>
<circle cx="93.1" cy="452.1" r="1.6" fill="#0303b0"/>
<circle cx="106.5" cy="448.5" r="1.6" fill="#0303b0"/>
<circle cx="92.5" cy="451.3" r="1.6" fill="#0303b0"/>
<circle cx="93.4" cy="446.3" r="1.6" fill="#0303b0"/>
<circle cx="87.5" cy="428.7" r="1.6" fill="#0303b0"/>
<circle cx="97.6" cy="441.4" r="1.6" fill="#0303b0"/>
<circle cx="100.2" cy="460.2" r="1.6" fill="#0303b0"/>
<circle cx="76.6" cy="428.0" r="1.6" fill="#0303b0"/>
<circle cx="104.7" cy="451.9" r="1.6" fill="#0303b0"/>
<circle cx="95.8" cy="455.7" r="1.6" fill="#0303b0"/>
<circle cx="108.9" cy="472.2" r="1.6" fill="#0303b0"/>
<circle cx="103.9" cy="461.7" r="1.6" fill="#0303b0"/>
<circle cx="109.5" cy="471.9" r="1.6" fill="#0303b0"/>
<circle cx="97.1" cy="431.6" r="1.6" fill="#0303b0"/>
<circle cx="92.2" cy="453.0" r="1.6" fill="#0303b0"/>
<circle cx="103.8" cy="450.6" r="1.6" fill="#0303b0"/>
<circle cx="106.4" cy="448.9" r="1.6" fill="#0303b0"/>
<circle cx="94.7" cy="440.1" r="1.6" fill="#0303b0"/>
<circle cx="86.3" cy="446.5" r="1.6" fill="#0303b0"/>
<circle cx="99.8" cy="450.8" r="1.6" fill="#0303b0"/>
<circle cx="106.4" cy="460.3" r="1.6" fill="#0303b0"/>
<circle cx="87.3" cy="422.6" r="1.6" fill="#0303b0"/>
<circle cx="85.4" cy="451.2" r="1.6" fill="#0303b0"/>
<circle cx="91.3" cy="458.5" r="1.6" fill="#0303b0"/>
<circle cx="102.2" cy="455.5" r="1.6" fill="#0303b0"/>
<circle cx="97.0" cy="433.1" r="1.6" fill="#0303b0"/>
<circle cx="82.5" cy="421.4" r="1.6" fill="#0303b0"/>
<circle cx="79.4" cy="419.5" r="1.6" fill="#0303b0"/>
<circle cx="111.3" cy="463.6" r="1.6" fill="#0303b0"/>
<circle cx="87.1" cy="446.3" r="1.6" fill="#0303b0"/>
<circle cx="106.4" cy="436.0" r="1.6" fill="#0303b0"/>
<circle cx="77.7" cy="420.5" r="1.6" fill="#0303b0"/>
<circle cx="106.2" cy="441.3" r="1.6" fill="#0303b0"/>
<circle cx="97.1" cy="453.8" r="1.6" fill="#0303b0"/>
<circle cx="99.7" cy="465.1" r="1.6" fill="#0303b0"/>
<circle cx="88.8" cy="436.5" r="1.6" fill="#0303b0"/>
<circle cx="103.1" cy="436.0" r="1.6" fill="#0303b0"/>
<circle cx="89.1" cy="449.9" r="1.6" fill="#0303b0"/>
<circle cx="84.2" cy="444.8" r="1.6" fill="#0303b0"/>
<circle cx="97.8" cy="435.1" r="1.6" fill="#0303b0"/>
<circle cx="99.8" cy="437.4" r="1.6" fill="#0303b0"/>
<circle cx="109.5" cy="463.8" r="1.6" fill="#0303b0"/>
<circle cx="98.6" cy="465.8" r="1.6" fill="#0303b0"/>
<circle cx="83.0" cy="433.2" r="1.6" fill="#0303b0"/>
<circle cx="105.5" cy="454.6" r="1.6" fill="#0303b0"/>
<circle cx="95.2" cy="443.9" r="1.6" fill="#0303b0"/>
<circle cx="101.9" cy="451.3" r="1.6" fill="#0303b0"/>
<circle cx="82.7" cy="428.0" r="1.6" fill="#0303b0"/>
<circle cx="102.2" cy="464.2" r="1.6" fill="#0303b0"/>
<circle cx="85.6" cy="437.1" r="1.6" fill="#0303b0"/>
<circle cx="102.4" cy="469.2" r="1.6" fill="#0303b0"/>
<circle cx="101.6" cy="462.0" r="1.6" fill="#0303b0"/>
<circle cx="109.1" cy="443.9" r="1.6" fill="#0303b0"/>
<circle cx="94.6" cy="456.4" r="1.6" fill="#0303b0"/>
<circle cx="87.0" cy="450.5" r="1.6" fill="#0303b0"/>
<circle cx="91.8" cy="447.9" r="1.6" fill="#0303b0"/>
<circle cx="94.0" cy="450.8" r="1.6" fill="#0303b0"/>
<circle cx="100.1" cy="461.4" r="1.6" fill="#0303b0"/>
<circle cx="105.6" cy="440.7" r="1.6" fill="#0303b0"/>
<circle cx="80.0" cy="414.4" r="1.6" fill="#0303b0"/>
<circle cx="89.5" cy="432.5" r="1.6" fill="#0303b0"/>
<circle cx="100.3" cy="456.2" r="1.6" fill="#0303b0"/>
<circle cx="90.3" cy="444.4" r="1.6" fill="#0303b0"/>
<circle cx="94.5" cy="434.4" r="1.6" fill="#0303b0"/>
<circle cx="105.5" cy="448.3" r="1.6" fill="#0303b0"/>
<circle cx="97.0" cy="443.0" r="1.6" fill="#0303b0"/>
<circle cx="83.7" cy="446.9" r="1.6" fill="#0303b0"/>
<circle cx="103.7" cy="466.7" r="1.6" fill="#0303b0"/>
<circle cx="86.3" cy="443.7" r="1.6" fill="#0303b0"/>
<circle cx="108.1" cy="435.3" r="1.6" fill="#0303b0"/>
<circle cx="106.3" cy="465.8" r="1.6" fill="#0303b0"/>
<circle cx="99.1" cy="442.2" r="1.6" fill="#0303b0"/>
<circle cx="86.3" cy="432.5" r="1.6" fill="#0303b0"/>
<circle cx="102.9" cy="450.2" r="1.6" fill="#0303b0"/>
<circle cx="113.3" cy="469.2" r="1.6" fill="#0303b0"/>
<circle cx="101.0" cy="438.3" r="1.6" fill="#0303b0"/>
<circle cx="82.5" cy="437.8" r="1.6" fill="#0303b0"/>
<circle cx="86.3" cy="434.1" r="1.6" fill="#0303b0"/>
<circle cx="93.1" cy="437.6" r="1.6" fill="#0303b0"/>
<circle cx="102.6" cy="448.0" r="1.6" fill="#0303b0"/>
<circle cx="100.5" cy="431.8" r="1.6" fill="#0303b0"/>
<circle cx="87.3" cy="420.1" r="1.6" fill="#0303b0"/>
<circle cx="98.7" cy="442.3" r="1.6" fill="#0303b0"/>
<circle cx="80.0" cy="420.4" r="1.6" fill="#0303b0"/>
<circle cx="102.8" cy="432.3" r="1.6" fill="#0303b0"/>
<circle cx="90.5" cy="424.6" r="1.6" fill="#0303b0"/>
<circle cx="94.6" cy="434.7" r="1.6" fill="#0303b0"/>
<circle cx="90.6" cy="419.8" r="1.6" fill="#0303b0"/>
<circle cx="105.1" cy="453.3" r="1.6" fill="#0303b0"/>
<circle cx="92.4" cy="454.3" r="1.6" fill="#0303b0"/>
<circle cx="99.0" cy="449.2" r="1.6" fill="#0303b0"/>
<circle cx="108.9" cy="462.4" r="1.6" fill="#0303b0"/>
<circle cx="88.7" cy="424.7" r="1.6" fill="#0303b0"/>
<circle cx="99.1" cy="445.7" r="1.6" fill="#0303b0"/>
<circle cx="106.9" cy="461.6" r="1.6" fill="#0303b0"/>
<circle cx="105.3" cy="453.0" r="1.6" fill="#0303b0"/>
<circle cx="106.4" cy="466.3" r="1.6" fill="#0303b0"/>
<circle cx="88.7" cy="434.4" r="1.6" fill="#0303b0"/>
<circle cx="93.6" cy="450.1" r="1.6" fill="#0303b0"/>
<circle cx="87.9" cy="429.5" r="1.6" fill="#0303b0"/>
<circle cx="94.8" cy="423.2" r="1.6" fill="#0303b0"/>
<circle cx="105.0" cy="440.7" r="1.6" fill="#0303b0"/>
<circle cx="96.3" cy="447.2" r="1.6" fill="#0303b0"/>
<circle cx="90.0" cy="432.3" r="1.6" fill="#0303b0"/>
<circle cx="93.9" cy="453.2" r="1.6" fill="#0303b0"/>
<circle cx="81.4" cy="428.9" r="1.6" fill="#0303b0"/>
<circle cx="94.3" cy="449.6" r="1.6" fill="#0303b0"/>
<circle cx="102.9" cy="451.4" r="1.6" fill="#0303b0"/>
<circle cx="107.6" cy="451.6" r="1.6" fill="#0303b0"/>
<circle cx="104.3" cy="432.8" r="1.6" fill="#0303b0"/>
<circle cx="84.6" cy="453.2" r="1.6" fill="#0303b0"/>
<circle cx="104.6" cy="466.7" r="1.6" fill="#0303b0"/>
<circle cx="86.3" cy="454.2" r="1.6" fill="#0303b0"/>
<circle cx="78.6" cy="414.0" r="1.6" fill="#0303b0"/>
<circle cx="100.8" cy="429.3" r="1.6" fill="#0303b0"/>
<circle cx="104.9" cy="462.7" r="1.6" fill="#0303b0"/>
<circle cx="114.6" cy="472.1" r="1.6" fill="#0303b0"/>
<circle cx="103.9" cy="456.6" r="1.6" fill="#0303b0"/>
<circle cx="101.4" cy="445.5" r="1.6" fill="#0303b0"/>
<circle cx="100.2" cy="450.6" r="1.6" fill="#0303b0"/>
<circle cx="97.5" cy="454.1" r="1.6" fill="#0303b0"/>
<circle cx="86.2" cy="428.8" r="1.6" fill="#0303b0"/>
<circle cx="83.4" cy="419.5" r="1.6" fill="#0303b0"/>
<circle cx="106.2" cy="462.3" r="1.6" fill="#0303b0"/>
<circle cx="83.5" cy="443.9" r="1.6" fill="#0303b0"/>
<circle cx="103.8" cy="442.1" r="1.6" fill="#0303b0"/>
<circle cx="114.4" cy="470.9" r="1.6" fill="#0303b0"/>
<circle cx="109.3" cy="461.2" r="1.6" fill="#0303b0"/>
<circle cx="97.9" cy="454.8" r="1.6" fill="#0303b0"/>
<circle cx="92.6" cy="439.2" r="1.6" fill="#0303b0"/>
<circle cx="89.9" cy="446.5" r="1.6" fill="#0303b0"/>
<circle cx="77.4" cy="445.5" r="1.6" fill="#0303b0"/>
<circle cx="113.3" cy="469.9" r="1.6" fill="#0303b0"/>
<circle cx="96.4" cy="438.6" r="1.6" fill="#0303b0"/>
<circle cx="97.8" cy="437.3" r="1.6" fill="#0303b0"/>
<circle cx="75.0" cy="432.6" r="1.6" fill="#0303b0"/>
<circle cx="110.4" cy="470.9" r="1.6" fill="#0303b0"/>
<circle cx="84.1" cy="430.9" r="1.6" fill="#0303b0"/>
<circle cx="88.5" cy="446.5" r="1.6" fill="#0303b0"/>
<circle cx="90.2" cy="438.5" r="1.6" fill="#0303b0"/>
<circle cx="77.9" cy="437.8" r="1.6" fill="#0303b0"/>
<circle cx="99.4" cy="452.0" r="1.6" fill="#0303b0"/>
<circle cx="82.5" cy="446.5" r="1.6" fill="#0303b0"/>
<circle cx="98.7" cy="424.7" r="1.6" fill="#0303b0"/>
<circle cx="97.6" cy="465.0" r="1.6" fill="#0303b0"/>
<circle cx="104.6" cy="451.1" r="1.6" fill="#0303b0"/>
<circle cx="86.2" cy="432.4" r="1.6" fill="#0303b0"/>
<circle cx="104.2" cy="448.3" r="1.6" fill="#0303b0"/>
<circle cx="81.8" cy="422.4" r="1.6" fill="#0303b0"/>
<circle cx="88.4" cy="426.2" r="1.6" fill="#0303b0"/>
<circle cx="97.1" cy="464.1" r="1.6" fill="#0303b0"/>
<circle cx="114.8" cy="474.1" r="1.6" fill="#0303b0"/>
<circle cx="100.4" cy="469.3" r="1.6" fill="#0303b0"/>
<circle cx="111.4" cy="460.0" r="1.6" fill="#0303b0"/>
<circle cx="106.7" cy="465.1" r="1.6" fill="#0303b0"/>
<circle cx="86.1" cy="436.8" r="1.6" fill="#0303b0"/>
<circle cx="87.6" cy="454.2" r="1.6" fill="#0303b0"/>
<circle cx="98.3" cy="442.7" r="1.6" fill="#0303b0"/>
<circle cx="86.2" cy="444.1" r="1.6" fill="#0303b0"/>
<circle cx="87.0" cy="437.6" r="1.6" fill="#0303b0"/>
<circle cx="96.5" cy="434.9" r="1.6" fill="#0303b0"/>
<circle cx="90.7" cy="439.2" r="1.6" fill="#0303b0"/>
<circle cx="85.2" cy="429.4" r="1.6" fill="#0303b0"/>
<circle cx="103.2" cy="439.6" r="1.6" fill="#0303b0"/>
<circle cx="101.8" cy="441.4" r="1.6" fill="#0303b0"/>
<circle cx="102.7" cy="442.7" r="1.6" fill="#0303b0"/>
<circle cx="97.0" cy="440.0" r="1.6" fill="#0303b0"/>
<circle cx="112.9" cy="457.4" r="1.6" fill="#0303b0"/>
<circle cx="100.6" cy="433.2" r="1.6" fill="#0303b0"/>
<circle cx="86.0" cy="417.4" r="1.6" fill="#0303b0"/>
<circle cx="85.9" cy="424.9" r="1.6" fill="#0303b0"/>
<circle cx="84.0" cy="429.7" r="1.6" fill="#0303b0"/>
<circle cx="107.9" cy="450.8" r="1.6" fill="#0303b0"/>
<circle cx="112.2" cy="451.7" r="1.6" fill="#0303b0"/>
<circle cx="88.1" cy="450.8" r="1.6" fill="#0303b0"/>
<circle cx="82.0" cy="421.2" r="1.6" fill="#0303b0"/>
<circle cx="113.4" cy="466.5" r="1.6" fill="#0303b0"/>
<circle cx="81.6" cy="429.4" r="1.6" fill="#0303b0"/>
<circle cx="112.6" cy="473.2" r="1.6" fill="#0303b0"/>
<circle cx="97.9" cy="432.3" r="1.6" fill="#0303b0"/>
<circle cx="102.3" cy="454.0" r="1.6" fill="#0303b0"/>
<circle cx="95.7" cy="460.4" r="1.6" fill="#0303b0"/>
<circle cx="95.5" cy="434.0" r="1.6" fill="#0303b0"/>
<circle cx="90.2" cy="456.6" r="1.6" fill="#0303b0"/>
<circle cx="100.7" cy="449.6" r="1.6" fill="#0303b0"/>
<circle cx="82.9" cy="413.9" r="1.6" fill="#0303b0"/>
<circle cx="98.7" cy="434.9" r="1.6" fill="#0303b0"/>
<circle cx="91.3" cy="430.8" r="1.6" fill="#0303b0"/>
<circle cx="96.2" cy="460.8" r="1.6" fill="#0303b0"/>
<circle cx="81.4" cy="444.0" r="1.6" fill="#0303b0"/>
<circle cx="109.1" cy="443.8" r="1.6" fill="#0303b0"/>
<circle cx="101.7" cy="464.3" r="1.6" fill="#0303b0"/>
<circle cx="97.6" cy="449.2" r="1.6" fill="#0303b0"/>
<circle cx="109.0" cy="452.6" r="1.6" fill="#0303b0"/>
<circle cx="91.7" cy="460.0" r="1.6" fill="#0303b0"/>
<circle cx="111.6" cy="473.4" r="1.6" fill="#0303b0"/>
<circle cx="95.0" cy="422.8" r="1.6" fill="#0303b0"/>
<circle cx="96.8" cy="432.3" r="1.6" fill="#0303b0"/>
<circle cx="103.7" cy="449.2" r="1.6" fill="#0303b0"/>
<circle cx="90.3" cy="423.3" r="1.6" fill="#0303b0"/>
<circle cx="104.6" cy="450.1" r="1.6" fill="#0303b0"/>
<circle cx="89.2" cy="417.6" r="1.6" fill="#0303b0"/>
<circle cx="91.2" cy="454.6" r="1.6" fill="#0303b0"/>
<circle cx="83.2" cy="445.6" r="1.6" fill="#0303b0"/>
<circle cx="104.0" cy="452.7" r="1.6" fill="#0303b0"/>
<circle cx="102.6" cy="431.6" r="1.6" fill="#0303b0"/>
<circle cx="84.1" cy="439.1" r="1.6" fill="#0303b0"/>
<circle cx="99.0" cy="459.8" r="1.6" fill="#0303b0"/>
<circle cx="110.5" cy="464.9" r="1.6" fill="#0303b0"/>
<circle cx="105.8" cy="453.9" r="1.6" fill="#0303b0"/>
<circle cx="94.5" cy="436.9" r="1.6" fill="#0303b0"/>
<circle cx="97.5" cy="426.0" r="1.6" fill="#0303b0"/>
<circle cx="101.5" cy="464.3" r="1.6" fill="#0303b0"/>
<circle cx="105.2" cy="458.4" r="1.6" fill="#0303b0"/>
<circle cx="109.9" cy="453.5" r="1.6" fill="#0303b0"/>
<circle cx="97.8" cy="443.0" r="1.6" fill="#0303b0"/>
<circle cx="104.9" cy="466.4" r="1.6" fill="#0303b0"/>
<circle cx="106.0" cy="457.9" r="1.6" fill="#0303b0"/>
<circle cx="89.9" cy="447.8" r="1.6" fill="#0303b0"/>
<circle cx="82.1" cy="446.0" r="1.6" fill="#0303b0"/>
<circle cx="97.5" cy="434.0" r="1.6" fill="#0303b0"/>
<circle cx="92.1" cy="434.3" r="1.6" fill="#0303b0"/>
<circle cx="103.3" cy="462.0" r="1.6" fill="#0303b0"/>
<circle cx="110.3" cy="466.0" r="1.6" fill="#0303b0"/>
<circle cx="86.5" cy="447.7" r="1.6" fill="#0303b0"/>
<circle cx="93.2" cy="437.1" r="1.6" fill="#0303b0"/>
<circle cx="102.2" cy="454.0" r="1.6" fill="#0303b0"/>
<circle cx="74.5" cy="416.9" r="1.6" fill="#0303b0"/>
<circle cx="87.1" cy="427.8" r="1.6" fill="#0303b0"/>
<circle cx="91.6" cy="433.2" r="1.6" fill="#0303b0"/>
<circle cx="77.7" cy="423.5" r="1.6" fill="#0303b0"/>
<circle cx="102.6" cy="469.6" r="1.6" fill="#0303b0"/>
<circle cx="105.3" cy="442.0" r="1.6" fill="#0303b0"/>
<circle cx="96.9" cy="449.2" r="1.6" fill="#0303b0"/>
<circle cx="91.1" cy="436.3" r="1.6" fill="#0303b0"/>
<circle cx="93.9" cy="432.5" r="1.6" fill="#0303b0"/>
<circle cx="89.9" cy="456.2" r="1.6" fill="#0303b0"/>
<circle cx="112.4" cy="454.5" r="1.6" fill="#0303b0"/>
<circle cx="82.8" cy="438.6" r="1.6" fill="#0303b0"/>
<circle cx="105.1" cy="472.7" r="1.6" fill="#0303b0"/>
<circle cx="104.0" cy="457.5" r="1.6" fill="#0303b0"/>
<circle cx="88.8" cy="455.5" r="1.6" fill="#0303b0"/>
<circle cx="106.7" cy="446.3" r="1.6" fill="#0303b0"/>
<circle cx="111.1" cy="445.6" r="1.6" fill="#0303b0"/>
<circle cx="82.9" cy="439.8" r="1.6" fill="#0303b0"/>
<circle cx="88.2" cy="426.1" r="1.6" fill="#0303b0"/>
<circle cx="86.3" cy="435.2" r="1.6" fill="#0303b0"/>
<circle cx="97.4" cy="463.6" r="1.6" fill="#0303b0"/>
<circle cx="103.4" cy="458.2" r="1.6" fill="#0303b0"/>
<circle cx="92.8" cy="446.6" r="1.6" fill="#0303b0"/>
<circle cx="100.7" cy="430.0" r="1.6" fill="#0303b0"/>
<circle cx="108.0" cy="469.2" r="1.6" fill="#0303b0"/>
<circle cx="105.5" cy="472.4" r="1.6" fill="#0303b0"/>
<circle cx="82.0" cy="445.6" r="1.6" fill="#0303b0"/>
<circle cx="89.5" cy="435.5" r="1.6" fill="#0303b0"/>
<circle cx="115.5" cy="467.6" r="1.6" fill="#0303b0"/>
<circle cx="95.9" cy="463.0" r="1.6" fill="#0303b0"/>
<circle cx="93.2" cy="459.2" r="1.6" fill="#0303b0"/>
<circle cx="108.8" cy="444.9" r="1.6" fill="#0303b0"/>
<circle cx="83.4" cy="438.7" r="1.6" fill="#0303b0"/>
<circle cx="98.9" cy="442.0" r="1.6" fill="#0303b0"/>
<circle cx="88.5" cy="427.1" r="1.6" fill="#0303b0"/>
<circle cx="99.5" cy="440.4" r="1.6" fill="#0303b0"/>
<circle cx="99.9" cy="454.4" r="1.6" fill="#0303b0"/>
<circle cx="103.0" cy="436.3" r="1.6" fill="#0303b0"/>
<circle cx="102.3" cy="456.5" r="1.6" fill="#0303b0"/>
<circle cx="80.5" cy="419.6" r="1.6" fill="#0303b0"/>
<circle cx="93.6" cy="440.9" r="1.6" fill="#0303b0"/>
<circle cx="99.9" cy="438.7" r="1.6" fill="#0303b0"/>
<circle cx="107.6" cy="465.5" r="1.6" fill="#0303b0"/>
<circle cx="81.7" cy="426.8" r="1.6" fill="#0303b0"/>
<circle cx="99.1" cy="445.5" r="1.6" fill="#0303b0"/>
<circle cx="102.4" cy="457.8" r="1.6" fill="#0303b0"/>
<circle cx="104.4" cy="466.7" r="1.6" fill="#0303b0"/>
<circle cx="92.7" cy="445.9" r="1.6" fill="#0303b0"/>
<circle cx="88.5" cy="440.7" r="1.6" fill="#0303b0"/>
<circle cx="106.0" cy="434.0" r="1.6" fill="#0303b0"/>
<circle cx="91.4" cy="439.5" r="1.6" fill="#0303b0"/>
<circle cx="107.1" cy="461.2" r="1.6" fill="#0303b0"/>
<circle cx="103.3" cy="443.9" r="1.6" fill="#0303b0"/>
<circle cx="95.1" cy="428.1" r="1.6" fill="#0303b0"/>
<circle cx="95.5" cy="458.2" r="1.6" fill="#0303b0"/>
<circle cx="101.8" cy="443.4" r="1.6" fill="#0303b0"/>
<circle cx="88.3" cy="445.9" r="1.6" fill="#0303b0"/>
<circle cx="101.2" cy="464.6" r="1.6" fill="#0303b0"/>
<circle cx="85.8" cy="427.9" r="1.6" fill="#0303b0"/>
<circle cx="92.1" cy="430.8" r="1.6" fill="#0303b0"/>
<circle cx="103.1" cy="457.3" r="1.6" fill="#0303b0"/>
<circle cx="90.0" cy="442.9" r="1.6" fill="#0303b0"/>
<circle cx="98.9" cy="444.9" r="1.6" fill="#0303b0"/>
<circle cx="84.8" cy="443.4" r="1.6" fill="#0303b0"/>
<circle cx="113.7" cy="469.1" r="1.6" fill="#0303b0"/>
<circle cx="102.4" cy="430.3" r="1.6" fill="#0303b0"/>
<circle cx="102.6" cy="462.1" r="1.6" fill="#0303b0"/>
<circle cx="92.4" cy="445.1" r="1.6" fill="#0303b0"/>
<circle cx="82.7" cy="440.4" r="1.6" fill="#0303b0"/>
<circle cx="85.8" cy="440.3" r="1.6" fill="#0303b0"/>
<circle cx="99.2" cy="448.1" r="1.6" fill="#0303b0"/>
<circle cx="96.3" cy="453.0" r="1.6" fill="#0303b0"/>
<circle cx="105.8" cy="459.6" r="1.6" fill="#0303b0"/>
<circle cx="87.5" cy="437.3" r="1.6" fill="#0303b0"/>
<circle cx="101.7" cy="445.6" r="1.6" fill="#0303b0"/>
<circle cx="82.8" cy="426.0" r="1.6" fill="#0303b0"/>
<circle cx="92.4" cy="445.1" r="1.6" fill="#0303b0"/>
<circle cx="86.8" cy="440.1" r="1.6" fill="#0303b0"/>
<circle cx="99.8" cy="462.4" r="1.6" fill="#0303b0"/>
<circle cx="79.3" cy="446.9" r="1.6" fill="#0303b0"/>
<circle cx="102.8" cy="431.5" r="1.6" fill="#0303b0"/>
<circle cx="88.4" cy="449.7" r="1.6" fill="#0303b0"/>
<circle cx="97.8" cy="464.9" r="1.6" fill="#0303b0"/>
<circle cx="104.3" cy="461.3" r="1.6" fill="#0303b0"/>
<circle cx="98.5" cy="459.0" r="1.6" fill="#0303b0"/>
<circle cx="98.9" cy="444.4" r="1.6" fill="#0303b0"/>
<circle cx="109.3" cy="453.3" r="1.6" fill="#0303b0"/>
<circle cx="82.1" cy="422.3" r="1.6" fill="#0303b0"/>
<circle cx="102.8" cy="440.1" r="1.6" fill="#0303b0"/>
<circle cx="102.1" cy="450.5" r="1.6" fill="#0303b0"/>
<circle cx="85.0" cy="446.0" r="1.6" fill="#0303b0"/>
<circle cx="113.3" cy="463.5" r="1.6" fill="#0303b0"/>
<circle cx="96.0" cy="457.2" r="1.6" fill="#0303b0"/>
<circle cx="83.3" cy="441.5" r="1.6" fill="#0303b0"/>
<circle cx="86.9" cy="436.3" r="1.6" fill="#0303b0"/>
<circle cx="107.6" cy="460.2" r="1.6" fill="#0303b0"/>
<circle cx="91.3" cy="431.3" r="1.6" fill="#0303b0"/>
<circle cx="99.6" cy="430.6" r="1.6" fill="#0303b0"/>
<circle cx="83.4" cy="418.8" r="1.6" fill="#0303b0"/>
<circle cx="93.7" cy="453.9" r="1.6" fill="#0303b0"/>
<circle cx="89.4" cy="451.1" r="1.6" fill="#0303b0"/>
<circle cx="95.5" cy="444.9" r="1.6" fill="#0303b0"/>
<circle cx="95.6" cy="425.0" r="1.6" fill="#0303b0"/>
<circle cx="95.1" cy="430.2" r="1.6" fill="#0303b0"/>
<circle cx="106.4" cy="463.4" r="1.6" fill="#0303b0"/>
<circle cx="114.4" cy="465.3" r="1.6" fill="#0303b0"/>
<circle cx="105.2" cy="459.7" r="1.6" fill="#0303b0"/>
<circle cx="85.8" cy="432.1" r="1.6" fill="#0303b0"/>
<circle cx="108.9" cy="441.0" r="1.6" fill="#0303b0"/>
<circle cx="105.4" cy="451.9" r="1.6" fill="#0303b0"/>
<circle cx="100.9" cy="438.6" r="1.6" fill="#0303b0"/>
<circle cx="114.3" cy="473.3" r="1.6" fill="#0303b0"/>
<circle cx="91.5" cy="456.7" r="1.6" fill="#0303b0"/>
<circle cx="88.3" cy="434.9" r="1.6" fill="#0303b0"/>
<circle cx="97.5" cy="453.8" r="1.6" fill="#0303b0"/>
<circle cx="92.0" cy="443.6" r="1.6" fill="#0303b0"/>
<circle cx="98.9" cy="433.9" r="1.6" fill="#0303b0"/>
<circle cx="102.4" cy="432.3" r="1.6" fill="#0303b0"/>
<circle cx="103.1" cy="434.4" r="1.6" fill="#0303b0"/>
<circle cx="111.2" cy="455.2" r="1.6" fill="#0303b0"/>
<circle cx="96.2" cy="427.5" r="1.6" fill="#0303b0"/>
<circle cx="77.6" cy="434.5" r="1.6" fill="#0303b0"/>
<circle cx="103.3" cy="441.2" r="1.6" fill="#0303b0"/>
<circle cx="85.3" cy="414.7" r="1.6" fill="#0303b0"/>
<circle cx="83.7" cy="437.0" r="1.6" fill="#0303b0"/>
<circle cx="91.5" cy="426.3" r="1.6" fill="#0303b0"/>
<circle cx="88.9" cy="451.8" r="1.6" fill="#0303b0"/>
<circle cx="90.7" cy="424.2" r="1.6" fill="#0303b0"/>
<circle cx="100.0" cy="446.5" r="1.6" fill="#0303b0"/>
<circle cx="88.2" cy="447.4" r="1.6" fill="#0303b0"/>
<circle cx="95.0" cy="459.8" r="1.6" fill="#0303b0"/>
<circle cx="87.7" cy="436.5" r="1.6" fill="#0303b0"/>
<circle cx="101.0" cy="447.2" r="1.6" fill="#0303b0"/>
<circle cx="86.1" cy="433.2" r="1.6" fill="#0303b0"/>
<circle cx="93.9" cy="451.6" r="1.6" fill="#0303b0"/>
<circle cx="100.5" cy="458.3" r="1.6" fill="#0303b0"/>
<circle cx="89.2" cy="443.5" r="1.6" fill="#0303b0"/>
<circle cx="98.7" cy="433.3" r="1.6" fill="#0303b0"/>
<circle cx="88.3" cy="431.3" r="1.6" fill="#0303b0"/>
<circle cx="84.3" cy="442.9" r="1.6" fill="#0303b0"/>
<circle cx="96.8" cy="434.5" r="1.6" fill="#0303b0"/>
<circle cx="91.2" cy="445.7" r="1.6" fill="#0303b0"/>
<circle cx="91.3" cy="436.6" r="1.6" fill="#0303b0"/>
<circle cx="91.4" cy="437.6" r="1.6" fill="#0303b0"/>
<circle cx="83.6" cy="437.0" r="1.6" fill="#0303b0"/>
<circle cx="99.3" cy="454.2" r="1.6" fill="#0303b0"/>
<circle cx="89.4" cy="448.0" r="1.6" fill="#0303b0"/>
<circle cx="102.4" cy="454.4" r="1.6" fill="#0303b0"/>
<circle cx="112.5" cy="455.6" r="1.6" fill="#0303b0"/>
<circle cx="106.9" cy="468.0" r="1.6" fill="#0303b0"/>
<circle cx="103.3" cy="455.9" r="1.6" fill="#0303b0"/>
<circle cx="98.2" cy="445.7" r="1.6" fill="#0303b0"/>
<circle cx="95.3" cy="452.4" r="1.6" fill="#0303b0"/>
<circle cx="107.9" cy="436.8" r="1.6" fill="#0303b0"/>
<circle cx="88.6" cy="436.9" r="1.6" fill="#0303b0"/>
<circle cx="112.9" cy="465.4" r="1.6" fill="#0303b0"/>
<circle cx="98.9" cy="459.4" r="1.6" fill="#0303b0"/>
<circle cx="106.2" cy="469.4" r="1.6" fill="#0303b0"/>
<circle cx="113.2" cy="461.3" r="1.6" fill="#0303b0"/>
<circle cx="94.6" cy="454.8" r="1.6" fill="#0303b0"/>
<circle cx="90.4" cy="451.0" r="1.6" fill="#0303b0"/>
<circle cx="84.3" cy="430.3" r="1.6" fill="#0303b0"/>
<circle cx="104.3" cy="457.2" r="1.6" fill="#0303b0"/>
<circle cx="95.3" cy="449.5" r="1.6" fill="#0303b0"/>
<circle cx="98.7" cy="439.6" r="1.6" fill="#0303b0"/>
<circle cx="86.7" cy="444.2" r="1.6" fill="#0303b0"/>
<circle cx="98.7" cy="432.2" r="1.6" fill="#0303b0"/>
<circle cx="108.5" cy="468.4" r="1.6" fill="#0303b0"/>
<circle cx="108.3" cy="461.5" r="1.6" fill="#0303b0"/>
<circle cx="84.9" cy="434.3" r="1.6" fill="#0303b0"/>
<circle cx="84.1" cy="440.4" r="1.6" fill="#0303b0"/>
<circle cx="126.4" cy="431.4" r="1.6" fill="#c00303"/>
<circle cx="130.4" cy="430.4" r="1.6" fill="#c00303"/>
<circle cx="123.4" cy="440.4" r="1.6" fill="#c00303"/>
<circle cx="140.3" cy="426.5" r="1.6" fill="#c00303"/>
<circle cx="142.7" cy="426.5" r="1.6" fill="#c00303"/>
<circle cx="142.3" cy="433.4" r="1.6" fill="#c00303"/>
<circle cx="145.3" cy="444.3" r="1.6" fill="#c00303"/>
<circle cx="140.7" cy="462.2" r="1.6" fill="#c00303"/>
<circle cx="150.2" cy="418.5" r="1.6" fill="#c00303"/>
<circle cx="149.2" cy="424.5" r="1.6" fill="#c00303"/>
<circle cx="151.6" cy="424.5" r="1.6" fill="#c00303"/>
<circle cx="154.2" cy="422.5" r="1.6" fill="#c00303"/>
<circle cx="158.8" cy="407.0" r="1.6" fill="#c00303"/>
<circle cx="136.3" cy="436.4" r="1.6" fill="#c00303"/>
<circle cx="131.4" cy="440.4" r="1.6" fill="#c00303"/>
<circle cx="122.4" cy="452.3" r="1.6" fill="#c00303"/>
<circle cx="119.3" cy="470.2" r="1.6" fill="#c00303"/>
<circle cx="126.3" cy="456.8" r="1.6" fill="#c00303"/>
<circle cx="123.7" cy="461.6" r="1.6" fill="#c00303"/>
<circle cx="118.4" cy="468.6" r="1.6" fill="#c00303"/>
<circle cx="117.4" cy="470.5" r="1.6" fill="#c00303"/>
<circle cx="125.6" cy="458.2" r="1.6" fill="#c00303"/>
<circle cx="119.3" cy="470.0" r="1.6" fill="#c00303"/>
<circle cx="117.9" cy="470.0" r="1.6" fill="#c00303"/>
<circle cx="135.4" cy="442.6" r="1.6" fill="#c00303"/>
<circle cx="130.7" cy="447.7" r="1.6" fill="#c00303"/>
<circle cx="135.0" cy="447.5" r="1.6" fill="#c00303"/>
<circle cx="132.3" cy="443.7" r="1.6" fill="#c00303"/>
<circle cx="128.9" cy="454.3" r="1.6" fill="#c00303"/>
<circle cx="122.1" cy="471.6" r="1.6" fill="#c00303"/>
<circle cx="120.3" cy="466.9" r="1.6" fill="#c00303"/>
<circle cx="118.9" cy="468.3" r="1.6" fill="#c00303"/>
<circle cx="120.5" cy="468.5" r="1.6" fill="#c00303"/>
<circle cx="120.7" cy="467.1" r="1.6" fill="#c00303"/>
<circle cx="134.4" cy="444.3" r="1.6" fill="#c00303"/>
<circle cx="119.0" cy="473.0" r="1.6" fill="#c00303"/>
<circle cx="124.1" cy="458.0" r="1.6" fill="#c00303"/>
<circle cx="127.3" cy="460.1" r="1.6" fill="#c00303"/>
<circle cx="118.1" cy="473.9" r="1.6" fill="#c00303"/>
<circle cx="134.9" cy="452.0" r="1.6" fill="#c00303"/>
<circle cx="120.5" cy="466.3" r="1.6" fill="#c00303"/>
<circle cx="127.3" cy="459.2" r="1.6" fill="#c00303"/>
<circle cx="121.2" cy="462.4" r="1.6" fill="#c00303"/>
<circle cx="125.5" cy="465.1" r="1.6" fill="#c00303"/>
<circle cx="126.0" cy="454.6" r="1.6" fill="#c00303"/>
<circle cx="120.3" cy="475.1" r="1.6" fill="#c00303"/>
<circle cx="130.3" cy="452.8" r="1.6" fill="#c00303"/>
<circle cx="127.4" cy="457.2" r="1.6" fill="#c00303"/>
<circle cx="120.6" cy="469.8" r="1.6" fill="#c00303"/>
<circle cx="130.5" cy="447.3" r="1.6" fill="#c00303"/>
<circle cx="136.5" cy="444.8" r="1.6" fill="#c00303"/>
<circle cx="133.3" cy="448.4" r="1.6" fill="#c00303"/>
<circle cx="129.5" cy="453.5" r="1.6" fill="#c00303"/>
<circle cx="118.2" cy="472.7" r="1.6" fill="#c00303"/>
<circle cx="121.6" cy="467.8" r="1.6" fill="#c00303"/>
<circle cx="121.4" cy="466.1" r="1.6" fill="#c00303"/>
<circle cx="124.6" cy="462.7" r="1.6" fill="#c00303"/>
<circle cx="118.6" cy="467.7" r="1.6" fill="#c00303"/>
<circle cx="120.6" cy="468.7" r="1.6" fill="#c00303"/>
<circle cx="122.1" cy="464.7" r="1.6" fill="#c00303"/>
<circle cx="127.1" cy="456.0" r="1.6" fill="#c00303"/>
<circle cx="133.4" cy="442.8" r="1.6" fill="#c00303"/>
<circle cx="117.6" cy="474.7" r="1.6" fill="#c00303"/>
<circle cx="125.2" cy="459.1" r="1.6" fill="#c00303"/>
<circle cx="118.1" cy="474.5" r="1.6" fill="#c00303"/>
<circle cx="133.8" cy="445.3" r="1.6" fill="#c00303"/>
<circle cx="124.2" cy="459.9" r="1.6" fill="#c00303"/>
<circle cx="128.8" cy="451.4" r="1.6" fill="#c00303"/>
<circle cx="122.1" cy="464.8" r="1.6" fill="#c00303"/>
<circle cx="121.0" cy="470.3" r="1.6" fill="#c00303"/>
<circle cx="122.6" cy="471.6" r="1.6" fill="#c00303"/>
<circle cx="125.5" cy="465.9" r="1.6" fill="#c00303"/>
<circle cx="121.2" cy="467.2" r="1.6" fill="#c00303"/>
<circle cx="125.5" cy="459.1" r="1.6" fill="#c00303"/>
<circle cx="123.0" cy="463.4" r="1.6" fill="#c00303"/>
<circle cx="120.8" cy="466.2" r="1.6" fill="#c00303"/>
<circle cx="120.1" cy="472.4" r="1.6" fill="#c00303"/>
<circle cx="117.3" cy="473.8" r="1.6" fill="#c00303"/>
<circle cx="120.0" cy="466.6" r="1.6" fill="#c00303"/>
<circle cx="132.7" cy="449.4" r="1.6" fill="#c00303"/>
<circle cx="120.4" cy="475.2" r="1.6" fill="#c00303"/>
<circle cx="118.4" cy="473.4" r="1.6" fill="#c00303"/>
<circle cx="136.7" cy="440.6" r="1.6" fill="#c00303"/>
<circle cx="122.6" cy="467.4" r="1.6" fill="#c00303"/>
<circle cx="120.6" cy="471.4" r="1.6" fill="#c00303"/>
<circle cx="124.1" cy="467.3" r="1.6" fill="#c00303"/>
<circle cx="120.1" cy="463.2" r="1.6" fill="#c00303"/>
<circle cx="117.7" cy="471.8" r="1.6" fill="#c00303"/>
<circle cx="118.6" cy="475.3" r="1.6" fill="#c00303"/>
<circle cx="117.6" cy="472.2" r="1.6" fill="#c00303"/>
<circle cx="126.5" cy="457.5" r="1.6" fill="#c00303"/>
<circle cx="128.5" cy="451.9" r="1.6" fill="#c00303"/>
<circle cx="131.5" cy="453.3" r="1.6" fill="#c00303"/>
<circle cx="131.8" cy="446.4" r="1.6" fill="#c00303"/>
<circle cx="122.8" cy="462.6" r="1.6" fill="#c00303"/>
<circle cx="125.2" cy="464.5" r="1.6" fill="#c00303"/>
<circle cx="118.0" cy="472.5" r="1.6" fill="#c00303"/>
<circle cx="124.9" cy="460.7" r="1.6" fill="#c00303"/>
<circle cx="123.1" cy="463.6" r="1.6" fill="#c00303"/>
<circle cx="126.6" cy="465.0" r="1.6" fill="#c00303"/>
<circle cx="119.6" cy="469.6" r="1.6" fill="#c00303"/>
<circle cx="119.6" cy="471.4" r="1.6" fill="#c00303"/>
<circle cx="123.5" cy="461.4" r="1.6" fill="#c00303"/>
<circle cx="117.7" cy="472.8" r="1.6" fill="#c00303"/>
<circle cx="126.0" cy="461.3" r="1.6" fill="#c00303"/>
<circle cx="118.7" cy="474.7" r="1.6" fill="#c00303"/>
<circle cx="128.6" cy="456.1" r="1.6" fill="#c00303"/>
<circle cx="128.1" cy="455.3" r="1.6" fill="#c00303"/>
<circle cx="130.4" cy="452.5" r="1.6" fill="#c00303"/>
<circle cx="120.1" cy="473.7" r="1.6" fill="#c00303"/>
<circle cx="122.4" cy="460.8" r="1.6" fill="#c00303"/>
<circle cx="120.2" cy="466.8" r="1.6" fill="#c00303"/>
<circle cx="123.6" cy="463.4" r="1.6" fill="#c00303"/>
<circle cx="119.1" cy="470.6" r="1.6" fill="#c00303"/>
<circle cx="123.3" cy="462.5" r="1.6" fill="#c00303"/>
<circle cx="121.7" cy="466.1" r="1.6" fill="#c00303"/>
<circle cx="124.2" cy="463.2" r="1.6" fill="#c00303"/>
<circle cx="125.7" cy="456.7" r="1.6" fill="#c00303"/>
<circle cx="136.2" cy="443.1" r="1.6" fill="#c00303"/>
<circle cx="120.3" cy="472.4" r="1.6" fill="#c00303"/>
<circle cx="117.4" cy="469.7" r="1.6" fill="#c00303"/>
<circle cx="118.7" cy="469.7" r="1.6" fill="#c00303"/>
<circle cx="118.2" cy="473.7" r="1.6" fill="#c00303"/>
<circle cx="117.9" cy="474.6" r="1.6" fill="#c00303"/>
<circle cx="121.7" cy="465.4" r="1.6" fill="#c00303"/>
<circle cx="120.9" cy="465.4" r="1.6" fill="#c00303"/>
<circle cx="118.5" cy="474.9" r="1.6" fill="#c00303"/>
<circle cx="122.0" cy="467.0" r="1.6" fill="#c00303"/>
<circle cx="119.8" cy="474.4" r="1.6" fill="#c00303"/>
<circle cx="122.4" cy="467.7" r="1.6" fill="#c00303"/>
<circle cx="117.6" cy="474.1" r="1.6" fill="#c00303"/>
<circle cx="117.7" cy="472.9" r="1.6" fill="#c00303"/>
<circle cx="127.3" cy="459.1" r="1.6" fill="#c00303"/>
<circle cx="125.0" cy="458.3" r="1.6" fill="#c00303"/>
<circle cx="120.3" cy="474.1" r="1.6" fill="#c00303"/>
<circle cx="121.1" cy="464.9" r="1.6" fill="#c00303"/>
<circle cx="122.9" cy="464.1" r="1.6" fill="#c00303"/>
<line x1="116.90" y1="357.6" x2="116.90" y2="475.3" stroke="#5a5a5a" stroke-width="1.25" stroke-dasharray="3,2.1"/>
<path d="M45.2,357.6 H176.9 V475.3" fill="none" stroke="#3b2e2e" stroke-width="1.2"/>
<path d="M45.2,357.1 V475.3 H177.5" fill="none" stroke="#1a1a1a" stroke-width="1.6"/>
<line x1="41.20" y1="475.30" x2="45.2" y2="475.30" stroke="#1a1a1a" stroke-width="1.1"/>
<text x="39.90" y="477.90" font-size="7.6" text-anchor="end" fill="#231f20" transform="translate(39.90,0) scale(1.08,1) translate(-39.90,0)">0.00</text>
<line x1="43.20" y1="465.49" x2="45.2" y2="465.49" stroke="#1a1a1a" stroke-width="1.1"/>
<line x1="43.20" y1="455.68" x2="45.2" y2="455.68" stroke="#1a1a1a" stroke-width="1.1"/>
<line x1="41.20" y1="445.88" x2="45.2" y2="445.88" stroke="#1a1a1a" stroke-width="1.1"/>
<text x="39.90" y="448.48" font-size="7.6" text-anchor="end" fill="#231f20" transform="translate(39.90,0) scale(1.08,1) translate(-39.90,0)">0.15</text>
<line x1="43.20" y1="436.07" x2="45.2" y2="436.07" stroke="#1a1a1a" stroke-width="1.1"/>
<line x1="43.20" y1="426.26" x2="45.2" y2="426.26" stroke="#1a1a1a" stroke-width="1.1"/>
<line x1="41.20" y1="416.45" x2="45.2" y2="416.45" stroke="#1a1a1a" stroke-width="1.1"/>
<text x="39.90" y="419.05" font-size="7.6" text-anchor="end" fill="#231f20" transform="translate(39.90,0) scale(1.08,1) translate(-39.90,0)">0.30</text>
<line x1="43.20" y1="406.64" x2="45.2" y2="406.64" stroke="#1a1a1a" stroke-width="1.1"/>
<line x1="43.20" y1="396.83" x2="45.2" y2="396.83" stroke="#1a1a1a" stroke-width="1.1"/>
<line x1="41.20" y1="387.03" x2="45.2" y2="387.03" stroke="#1a1a1a" stroke-width="1.1"/>
<text x="39.90" y="389.63" font-size="7.6" text-anchor="end" fill="#231f20" transform="translate(39.90,0) scale(1.08,1) translate(-39.90,0)">0.45</text>
<line x1="43.20" y1="377.22" x2="45.2" y2="377.22" stroke="#1a1a1a" stroke-width="1.1"/>
<line x1="43.20" y1="367.41" x2="45.2" y2="367.41" stroke="#1a1a1a" stroke-width="1.1"/>
<line x1="41.20" y1="357.60" x2="45.2" y2="357.60" stroke="#1a1a1a" stroke-width="1.1"/>
<text x="39.90" y="360.20" font-size="7.6" text-anchor="end" fill="#231f20" transform="translate(39.90,0) scale(1.08,1) translate(-39.90,0)">0.60</text>
<line x1="44.90" y1="475.3" x2="44.90" y2="478.3" stroke="#1a1a1a" stroke-width="1.1"/>
<text x="45.90" y="486.30" font-size="8.2" text-anchor="middle" fill="#231f20" >-0.6</text>
<line x1="68.90" y1="475.3" x2="68.90" y2="478.3" stroke="#1a1a1a" stroke-width="1.1"/>
<text x="69.90" y="486.30" font-size="8.2" text-anchor="middle" fill="#231f20" >-0.4</text>
<line x1="92.90" y1="475.3" x2="92.90" y2="478.3" stroke="#1a1a1a" stroke-width="1.1"/>
<text x="93.90" y="486.30" font-size="8.2" text-anchor="middle" fill="#231f20" >-0.2</text>
<line x1="116.90" y1="475.3" x2="116.90" y2="478.3" stroke="#1a1a1a" stroke-width="1.1"/>
<text x="117.90" y="486.30" font-size="8.2" text-anchor="middle" fill="#231f20" >0.0</text>
<line x1="140.90" y1="475.3" x2="140.90" y2="478.3" stroke="#1a1a1a" stroke-width="1.1"/>
<text x="141.90" y="486.30" font-size="8.2" text-anchor="middle" fill="#231f20" >0.2</text>
<line x1="164.90" y1="475.3" x2="164.90" y2="478.3" stroke="#1a1a1a" stroke-width="1.1"/>
<text x="165.90" y="486.30" font-size="8.2" text-anchor="middle" fill="#231f20" >0.4</text>
<text x="110.05" y="498.30" font-size="8.2" text-anchor="middle" fill="#231f20" >Pearson correlation (r)</text>
<text x="109.50" y="344.40" font-size="8.1" text-anchor="middle" fill="#231f20" >APA comparison between</text>
<text x="109.50" y="353.90" font-size="8.1" text-anchor="middle" fill="#231f20" >WT and Y65C</text>
<text transform="translate(18.9,414.55) rotate(-90)" font-size="9.45" text-anchor="middle" fill="#231f20">Percentage difference (PD)</text>
<circle cx="182.8" cy="365.5" r="1.5" fill="#0303b0"/>
<circle cx="182.8" cy="373.70" r="1.5" fill="#c00303"/>
<text x="187.60" y="367.70" font-size="8.1" text-anchor="start" fill="#231f20" >Distal to Proximal</text>
<text x="187.60" y="375.90" font-size="8.1" text-anchor="start" fill="#231f20" >Proximal to Distal</text>
<path d="M180.0,403.8 H182.6 V471.3 H227.5" fill="none" stroke="#1a1a1a" stroke-width="1.5"/>
<line x1="180.0" y1="417.30" x2="182.6" y2="417.30" stroke="#1a1a1a" stroke-width="1.3"/>
<line x1="180.0" y1="430.80" x2="182.6" y2="430.80" stroke="#1a1a1a" stroke-width="1.3"/>
<line x1="180.0" y1="444.30" x2="182.6" y2="444.30" stroke="#1a1a1a" stroke-width="1.3"/>
<line x1="180.0" y1="457.80" x2="182.6" y2="457.80" stroke="#1a1a1a" stroke-width="1.3"/>
<rect x="188.9" y="411.7" width="13.20" height="59.60" fill="#0303b0"/>
<line x1="195.50" y1="471.3" x2="195.50" y2="473.8" stroke="#1a1a1a" stroke-width="1.2"/>
<text x="195.50" y="410.40" font-size="8.3" text-anchor="middle" fill="#231f20" >441</text>
<rect x="208.3" y="452.8" width="13.00" height="18.50" fill="#c00303"/>
<line x1="214.80" y1="471.3" x2="214.80" y2="473.8" stroke="#1a1a1a" stroke-width="1.2"/>
<text x="214.80" y="451.50" font-size="8.3" text-anchor="middle" fill="#231f20" >137</text>
<text transform="translate(199.30,479.7) rotate(-45)" font-size="9" text-anchor="end" fill="#231f20">D to P</text>
<text transform="translate(218.60,479.7) rotate(-45)" font-size="9" text-anchor="end" fill="#231f20">P to D</text>
<circle cx="315.6" cy="361.0" r="1.6" fill="#0303b0"/>
<circle cx="310.7" cy="397.2" r="1.6" fill="#0303b0"/>
<circle cx="322.3" cy="404.8" r="1.6" fill="#0303b0"/>
<circle cx="315.9" cy="408.0" r="1.6" fill="#0303b0"/>
<circle cx="328.6" cy="418.0" r="1.6" fill="#0303b0"/>
<circle cx="333.1" cy="421.6" r="1.6" fill="#0303b0"/>
<circle cx="328.2" cy="423.2" r="1.6" fill="#0303b0"/>
<circle cx="327.0" cy="427.4" r="1.6" fill="#0303b0"/>
<circle cx="335.5" cy="428.3" r="1.6" fill="#0303b0"/>
<circle cx="331.3" cy="431.0" r="1.6" fill="#0303b0"/>
<circle cx="319.6" cy="431.4" r="1.6" fill="#0303b0"/>
<circle cx="323.4" cy="434.1" r="1.6" fill="#0303b0"/>
<circle cx="331.5" cy="435.2" r="1.6" fill="#0303b0"/>
<circle cx="342.2" cy="436.5" r="1.6" fill="#0303b0"/>
<circle cx="340.0" cy="437.9" r="1.6" fill="#0303b0"/>
<circle cx="339.1" cy="440.1" r="1.6" fill="#0303b0"/>
<circle cx="340.4" cy="439.2" r="1.6" fill="#0303b0"/>
<circle cx="357.6" cy="441.4" r="1.6" fill="#0303b0"/>
<circle cx="333.7" cy="444.6" r="1.6" fill="#0303b0"/>
<circle cx="348.7" cy="444.1" r="1.6" fill="#0303b0"/>
<circle cx="340.9" cy="444.6" r="1.6" fill="#0303b0"/>
<circle cx="342.7" cy="445.5" r="1.6" fill="#0303b0"/>
<circle cx="345.4" cy="444.6" r="1.6" fill="#0303b0"/>
<circle cx="339.1" cy="447.3" r="1.6" fill="#0303b0"/>
<circle cx="344.5" cy="447.3" r="1.6" fill="#0303b0"/>
<circle cx="343.6" cy="449.1" r="1.6" fill="#0303b0"/>
<circle cx="346.4" cy="449.1" r="1.6" fill="#0303b0"/>
<circle cx="347.3" cy="448.2" r="1.6" fill="#0303b0"/>
<circle cx="343.3" cy="450.9" r="1.6" fill="#0303b0"/>
<circle cx="345.4" cy="452.8" r="1.6" fill="#0303b0"/>
<circle cx="350.0" cy="453.7" r="1.6" fill="#0303b0"/>
<circle cx="351.8" cy="452.8" r="1.6" fill="#0303b0"/>
<circle cx="353.6" cy="452.8" r="1.6" fill="#0303b0"/>
<circle cx="354.5" cy="453.7" r="1.6" fill="#0303b0"/>
<circle cx="355.4" cy="454.6" r="1.6" fill="#0303b0"/>
<circle cx="350.9" cy="455.5" r="1.6" fill="#0303b0"/>
<circle cx="352.7" cy="455.5" r="1.6" fill="#0303b0"/>
<circle cx="349.1" cy="456.4" r="1.6" fill="#0303b0"/>
<circle cx="347.3" cy="457.3" r="1.6" fill="#0303b0"/>
<circle cx="350.0" cy="458.2" r="1.6" fill="#0303b0"/>
<circle cx="351.8" cy="457.3" r="1.6" fill="#0303b0"/>
<circle cx="353.6" cy="457.3" r="1.6" fill="#0303b0"/>
<circle cx="354.5" cy="458.2" r="1.6" fill="#0303b0"/>
<circle cx="356.3" cy="456.4" r="1.6" fill="#0303b0"/>
<circle cx="355.4" cy="460.0" r="1.6" fill="#0303b0"/>
<circle cx="357.2" cy="460.0" r="1.6" fill="#0303b0"/>
<circle cx="352.7" cy="460.0" r="1.6" fill="#0303b0"/>
<circle cx="350.9" cy="459.1" r="1.6" fill="#0303b0"/>
<circle cx="344.5" cy="460.9" r="1.6" fill="#0303b0"/>
<circle cx="348.2" cy="459.1" r="1.6" fill="#0303b0"/>
<circle cx="356.3" cy="461.8" r="1.6" fill="#0303b0"/>
<circle cx="358.1" cy="462.7" r="1.6" fill="#0303b0"/>
<circle cx="354.5" cy="462.7" r="1.6" fill="#0303b0"/>
<circle cx="356.3" cy="463.6" r="1.6" fill="#0303b0"/>
<circle cx="357.2" cy="465.4" r="1.6" fill="#0303b0"/>
<circle cx="359.0" cy="467.2" r="1.6" fill="#0303b0"/>
<circle cx="360.8" cy="469.0" r="1.6" fill="#0303b0"/>
<circle cx="351.8" cy="470.9" r="1.6" fill="#0303b0"/>
<circle cx="354.9" cy="455.5" r="1.6" fill="#0303b0"/>
<circle cx="352.3" cy="454.2" r="1.6" fill="#0303b0"/>
<circle cx="350.5" cy="454.2" r="1.6" fill="#0303b0"/>
<circle cx="353.2" cy="458.5" r="1.6" fill="#0303b0"/>
<circle cx="346.2" cy="458.8" r="1.6" fill="#0303b0"/>
<circle cx="351.5" cy="456.5" r="1.6" fill="#0303b0"/>
<circle cx="352.1" cy="454.1" r="1.6" fill="#0303b0"/>
<circle cx="353.3" cy="456.0" r="1.6" fill="#0303b0"/>
<circle cx="351.0" cy="453.5" r="1.6" fill="#0303b0"/>
<circle cx="353.9" cy="456.4" r="1.6" fill="#0303b0"/>
<circle cx="352.2" cy="457.4" r="1.6" fill="#0303b0"/>
<circle cx="354.1" cy="455.5" r="1.6" fill="#0303b0"/>
<circle cx="354.1" cy="464.3" r="1.6" fill="#0303b0"/>
<circle cx="352.1" cy="460.9" r="1.6" fill="#0303b0"/>
<circle cx="350.3" cy="456.2" r="1.6" fill="#0303b0"/>
<circle cx="354.2" cy="457.6" r="1.6" fill="#0303b0"/>
<circle cx="345.5" cy="461.0" r="1.6" fill="#0303b0"/>
<circle cx="348.5" cy="458.3" r="1.6" fill="#0303b0"/>
<circle cx="351.6" cy="453.4" r="1.6" fill="#0303b0"/>
<circle cx="352.6" cy="462.4" r="1.6" fill="#0303b0"/>
<circle cx="353.2" cy="461.3" r="1.6" fill="#0303b0"/>
<circle cx="350.3" cy="459.4" r="1.6" fill="#0303b0"/>
<circle cx="352.1" cy="454.4" r="1.6" fill="#0303b0"/>
<circle cx="346.4" cy="459.8" r="1.6" fill="#0303b0"/>
<circle cx="348.5" cy="457.5" r="1.6" fill="#0303b0"/>
<circle cx="354.6" cy="449.9" r="1.6" fill="#0303b0"/>
<circle cx="354.5" cy="461.5" r="1.6" fill="#0303b0"/>
<circle cx="350.1" cy="449.5" r="1.6" fill="#0303b0"/>
<circle cx="353.5" cy="455.1" r="1.6" fill="#0303b0"/>
<circle cx="349.7" cy="458.6" r="1.6" fill="#0303b0"/>
<circle cx="356.3" cy="457.2" r="1.6" fill="#0303b0"/>
<circle cx="348.3" cy="463.4" r="1.6" fill="#0303b0"/>
<circle cx="354.6" cy="461.4" r="1.6" fill="#0303b0"/>
<circle cx="351.1" cy="454.4" r="1.6" fill="#0303b0"/>
<circle cx="356.2" cy="452.0" r="1.6" fill="#0303b0"/>
<circle cx="351.9" cy="458.1" r="1.6" fill="#0303b0"/>
<circle cx="349.5" cy="451.0" r="1.6" fill="#0303b0"/>
<circle cx="355.8" cy="460.0" r="1.6" fill="#0303b0"/>
<circle cx="351.9" cy="458.3" r="1.6" fill="#0303b0"/>
<circle cx="354.8" cy="454.4" r="1.6" fill="#0303b0"/>
<circle cx="352.4" cy="459.2" r="1.6" fill="#0303b0"/>
<circle cx="359.2" cy="462.7" r="1.6" fill="#0303b0"/>
<circle cx="347.5" cy="456.0" r="1.6" fill="#0303b0"/>
<circle cx="418.8" cy="364.1" r="1.6" fill="#c00303"/>
<circle cx="410.6" cy="396.6" r="1.6" fill="#c00303"/>
<circle cx="398.3" cy="405.3" r="1.6" fill="#c00303"/>
<circle cx="400.1" cy="410.6" r="1.6" fill="#c00303"/>
<circle cx="406.1" cy="426.5" r="1.6" fill="#c00303"/>
<circle cx="395.8" cy="430.5" r="1.6" fill="#c00303"/>
<circle cx="399.4" cy="432.3" r="1.6" fill="#c00303"/>
<circle cx="394.7" cy="439.7" r="1.6" fill="#c00303"/>
<circle cx="395.6" cy="439.2" r="1.6" fill="#c00303"/>
<circle cx="402.5" cy="440.1" r="1.6" fill="#c00303"/>
<circle cx="397.9" cy="447.3" r="1.6" fill="#c00303"/>
<circle cx="380.2" cy="444.2" r="1.6" fill="#c00303"/>
<circle cx="383.5" cy="442.4" r="1.6" fill="#c00303"/>
<circle cx="386.2" cy="443.7" r="1.6" fill="#c00303"/>
<circle cx="384.4" cy="447.3" r="1.6" fill="#c00303"/>
<circle cx="390.7" cy="445.5" r="1.6" fill="#c00303"/>
<circle cx="389.8" cy="449.1" r="1.6" fill="#c00303"/>
<circle cx="391.6" cy="450.9" r="1.6" fill="#c00303"/>
<circle cx="387.1" cy="450.9" r="1.6" fill="#c00303"/>
<circle cx="388.0" cy="453.7" r="1.6" fill="#c00303"/>
<circle cx="390.7" cy="452.8" r="1.6" fill="#c00303"/>
<circle cx="381.7" cy="446.4" r="1.6" fill="#c00303"/>
<circle cx="379.8" cy="449.1" r="1.6" fill="#c00303"/>
<circle cx="382.6" cy="450.9" r="1.6" fill="#c00303"/>
<circle cx="378.0" cy="452.8" r="1.6" fill="#c00303"/>
<circle cx="380.7" cy="453.7" r="1.6" fill="#c00303"/>
<circle cx="378.9" cy="454.6" r="1.6" fill="#c00303"/>
<circle cx="377.1" cy="455.5" r="1.6" fill="#c00303"/>
<circle cx="376.2" cy="456.4" r="1.6" fill="#c00303"/>
<circle cx="383.5" cy="453.7" r="1.6" fill="#c00303"/>
<circle cx="382.6" cy="457.3" r="1.6" fill="#c00303"/>
<circle cx="378.0" cy="458.2" r="1.6" fill="#c00303"/>
<circle cx="374.4" cy="459.1" r="1.6" fill="#c00303"/>
<circle cx="375.3" cy="460.0" r="1.6" fill="#c00303"/>
<circle cx="373.5" cy="460.9" r="1.6" fill="#c00303"/>
<circle cx="371.7" cy="460.0" r="1.6" fill="#c00303"/>
<circle cx="369.9" cy="460.0" r="1.6" fill="#c00303"/>
<circle cx="370.8" cy="462.7" r="1.6" fill="#c00303"/>
<circle cx="372.6" cy="462.7" r="1.6" fill="#c00303"/>
<circle cx="374.4" cy="462.7" r="1.6" fill="#c00303"/>
<circle cx="376.2" cy="461.8" r="1.6" fill="#c00303"/>
<circle cx="378.0" cy="460.9" r="1.6" fill="#c00303"/>
<circle cx="379.8" cy="460.0" r="1.6" fill="#c00303"/>
<circle cx="381.7" cy="459.1" r="1.6" fill="#c00303"/>
<circle cx="370.8" cy="464.5" r="1.6" fill="#c00303"/>
<circle cx="369.0" cy="465.4" r="1.6" fill="#c00303"/>
<circle cx="368.1" cy="467.2" r="1.6" fill="#c00303"/>
<circle cx="369.9" cy="466.3" r="1.6" fill="#c00303"/>
<circle cx="367.2" cy="468.1" r="1.6" fill="#c00303"/>
<circle cx="366.3" cy="470.0" r="1.6" fill="#c00303"/>
<circle cx="365.4" cy="470.9" r="1.6" fill="#c00303"/>
<circle cx="364.5" cy="471.8" r="1.6" fill="#c00303"/>
<circle cx="365.4" cy="472.7" r="1.6" fill="#c00303"/>
<circle cx="367.2" cy="470.9" r="1.6" fill="#c00303"/>
<circle cx="381.7" cy="466.3" r="1.6" fill="#c00303"/>
<circle cx="382.6" cy="465.8" r="1.6" fill="#c00303"/>
<circle cx="376.8" cy="470.3" r="1.6" fill="#c00303"/>
<circle cx="386.2" cy="453.7" r="1.6" fill="#c00303"/>
<circle cx="385.3" cy="449.1" r="1.6" fill="#c00303"/>
<circle cx="379.6" cy="452.7" r="1.6" fill="#c00303"/>
<circle cx="380.5" cy="453.7" r="1.6" fill="#c00303"/>
<circle cx="376.7" cy="457.8" r="1.6" fill="#c00303"/>
<circle cx="375.5" cy="462.7" r="1.6" fill="#c00303"/>
<circle cx="374.6" cy="464.1" r="1.6" fill="#c00303"/>
<circle cx="376.1" cy="459.8" r="1.6" fill="#c00303"/>
<circle cx="371.2" cy="466.6" r="1.6" fill="#c00303"/>
<circle cx="368.9" cy="467.3" r="1.6" fill="#c00303"/>
<circle cx="374.9" cy="458.7" r="1.6" fill="#c00303"/>
<circle cx="381.8" cy="455.5" r="1.6" fill="#c00303"/>
<circle cx="369.4" cy="464.3" r="1.6" fill="#c00303"/>
<circle cx="374.9" cy="462.1" r="1.6" fill="#c00303"/>
<circle cx="372.5" cy="464.3" r="1.6" fill="#c00303"/>
<circle cx="379.7" cy="454.1" r="1.6" fill="#c00303"/>
<circle cx="377.6" cy="455.9" r="1.6" fill="#c00303"/>
<circle cx="368.9" cy="469.1" r="1.6" fill="#c00303"/>
<circle cx="373.8" cy="463.3" r="1.6" fill="#c00303"/>
<circle cx="374.2" cy="461.0" r="1.6" fill="#c00303"/>
<circle cx="375.2" cy="460.2" r="1.6" fill="#c00303"/>
<line x1="363.60" y1="356.5" x2="363.60" y2="475.0" stroke="#5a5a5a" stroke-width="1.25" stroke-dasharray="3,2.1"/>
<path d="M303.6,356.5 H423.6 V475.0" fill="none" stroke="#3b2e2e" stroke-width="1.2"/>
<path d="M303.6,356.0 V475.0 H424.20000000000005" fill="none" stroke="#1a1a1a" stroke-width="1.6"/>
<line x1="299.60" y1="475.00" x2="303.6" y2="475.00" stroke="#1a1a1a" stroke-width="1.1"/>
<text x="295.80" y="477.60" font-size="7.3" text-anchor="end" fill="#231f20" transform="translate(295.80,0) scale(1.0,1) translate(-295.80,0)">0.00</text>
<line x1="301.60" y1="465.12" x2="303.6" y2="465.12" stroke="#1a1a1a" stroke-width="1.1"/>
<line x1="301.60" y1="455.25" x2="303.6" y2="455.25" stroke="#1a1a1a" stroke-width="1.1"/>
<line x1="299.60" y1="445.38" x2="303.6" y2="445.38" stroke="#1a1a1a" stroke-width="1.1"/>
<text x="295.80" y="447.98" font-size="7.3" text-anchor="end" fill="#231f20" transform="translate(295.80,0) scale(1.0,1) translate(-295.80,0)">0.15</text>
<line x1="301.60" y1="435.50" x2="303.6" y2="435.50" stroke="#1a1a1a" stroke-width="1.1"/>
<line x1="301.60" y1="425.62" x2="303.6" y2="425.62" stroke="#1a1a1a" stroke-width="1.1"/>
<line x1="299.60" y1="415.75" x2="303.6" y2="415.75" stroke="#1a1a1a" stroke-width="1.1"/>
<text x="295.80" y="418.35" font-size="7.3" text-anchor="end" fill="#231f20" transform="translate(295.80,0) scale(1.0,1) translate(-295.80,0)">0.30</text>
<line x1="301.60" y1="405.88" x2="303.6" y2="405.88" stroke="#1a1a1a" stroke-width="1.1"/>
<line x1="301.60" y1="396.00" x2="303.6" y2="396.00" stroke="#1a1a1a" stroke-width="1.1"/>
<line x1="299.60" y1="386.12" x2="303.6" y2="386.12" stroke="#1a1a1a" stroke-width="1.1"/>
<text x="295.80" y="388.73" font-size="7.3" text-anchor="end" fill="#231f20" transform="translate(295.80,0) scale(1.0,1) translate(-295.80,0)">0.45</text>
<line x1="301.60" y1="376.25" x2="303.6" y2="376.25" stroke="#1a1a1a" stroke-width="1.1"/>
<line x1="301.60" y1="366.38" x2="303.6" y2="366.38" stroke="#1a1a1a" stroke-width="1.1"/>
<line x1="299.60" y1="356.50" x2="303.6" y2="356.50" stroke="#1a1a1a" stroke-width="1.1"/>
<text x="295.80" y="359.10" font-size="7.3" text-anchor="end" fill="#231f20" transform="translate(295.80,0) scale(1.0,1) translate(-295.80,0)">0.60</text>
<line x1="315.60" y1="475.0" x2="315.60" y2="478.0" stroke="#1a1a1a" stroke-width="1.1"/>
<text x="314.20" y="486.30" font-size="8.2" text-anchor="middle" fill="#231f20" >-0.4</text>
<line x1="339.60" y1="475.0" x2="339.60" y2="478.0" stroke="#1a1a1a" stroke-width="1.1"/>
<text x="338.20" y="486.30" font-size="8.2" text-anchor="middle" fill="#231f20" >-0.2</text>
<line x1="363.60" y1="475.0" x2="363.60" y2="478.0" stroke="#1a1a1a" stroke-width="1.1"/>
<text x="363.60" y="486.30" font-size="8.2" text-anchor="middle" fill="#231f20" >0.0</text>
<line x1="387.60" y1="475.0" x2="387.60" y2="478.0" stroke="#1a1a1a" stroke-width="1.1"/>
<text x="387.60" y="486.30" font-size="8.2" text-anchor="middle" fill="#231f20" >0.2</text>
<line x1="411.60" y1="475.0" x2="411.60" y2="478.0" stroke="#1a1a1a" stroke-width="1.1"/>
<text x="411.60" y="486.30" font-size="8.2" text-anchor="middle" fill="#231f20" >0.4</text>
<line x1="303.60" y1="475.0" x2="303.60" y2="478.0" stroke="#1a1a1a" stroke-width="1.1"/>
<line x1="327.60" y1="475.0" x2="327.60" y2="478.0" stroke="#1a1a1a" stroke-width="1.1"/>
<line x1="351.60" y1="475.0" x2="351.60" y2="478.0" stroke="#1a1a1a" stroke-width="1.1"/>
<line x1="375.60" y1="475.0" x2="375.60" y2="478.0" stroke="#1a1a1a" stroke-width="1.1"/>
<line x1="399.60" y1="475.0" x2="399.60" y2="478.0" stroke="#1a1a1a" stroke-width="1.1"/>
<line x1="423.60" y1="475.0" x2="423.60" y2="478.0" stroke="#1a1a1a" stroke-width="1.1"/>
<text x="362.60" y="497.00" font-size="8.2" text-anchor="middle" fill="#231f20" >Pearson correlation (r)</text>
<text x="366.40" y="344.40" font-size="8.1" text-anchor="middle" fill="#231f20" >APA comparison between</text>
<text x="366.40" y="353.90" font-size="8.1" text-anchor="middle" fill="#231f20" >Control and cKO</text>
<text transform="translate(275.5,413.85) rotate(-90)" font-size="9.45" text-anchor="middle" fill="#231f20">Percentage difference (PD)</text>
<circle cx="431.7" cy="362.6" r="1.5" fill="#0303b0"/>
<circle cx="431.7" cy="370.80" r="1.5" fill="#c00303"/>
<text x="436.50" y="364.80" font-size="8.1" text-anchor="start" fill="#231f20" >Distal to Proximal</text>
<text x="436.50" y="373.00" font-size="8.1" text-anchor="start" fill="#231f20" >Proximal to Distal</text>
<path d="M431.2,404.7 H433.8 V472.3 H479.6" fill="none" stroke="#1a1a1a" stroke-width="1.5"/>
<line x1="431.2" y1="418.22" x2="433.8" y2="418.22" stroke="#1a1a1a" stroke-width="1.3"/>
<line x1="431.2" y1="431.74" x2="433.8" y2="431.74" stroke="#1a1a1a" stroke-width="1.3"/>
<line x1="431.2" y1="445.26" x2="433.8" y2="445.26" stroke="#1a1a1a" stroke-width="1.3"/>
<line x1="431.2" y1="458.78" x2="433.8" y2="458.78" stroke="#1a1a1a" stroke-width="1.3"/>
<rect x="440.8" y="458.9" width="13.20" height="13.40" fill="#0303b0"/>
<line x1="447.40" y1="472.3" x2="447.40" y2="474.8" stroke="#1a1a1a" stroke-width="1.2"/>
<text x="447.40" y="457.60" font-size="8.3" text-anchor="middle" fill="#231f20" >101</text>
<rect x="460" y="461.9" width="13.00" height="10.40" fill="#c00303"/>
<line x1="466.50" y1="472.3" x2="466.50" y2="474.8" stroke="#1a1a1a" stroke-width="1.2"/>
<text x="466.50" y="460.60" font-size="8.3" text-anchor="middle" fill="#231f20" >78</text>
<text transform="translate(451.20,480.7) rotate(-45)" font-size="9" text-anchor="end" fill="#231f20">D to P</text>
<text transform="translate(470.30,480.7) rotate(-45)" font-size="9" text-anchor="end" fill="#231f20">P to D</text>
<circle cx="570.5" cy="429.4" r="50.1" fill="#c8d8ea" stroke="#2a1f1c" stroke-width="1.5"/>
<circle cx="626.2" cy="429.4" r="50.3" fill="#dbc9b1" fill-opacity="0.59" stroke="none"/>
<circle cx="626.2" cy="429.4" r="50.3" fill="none" stroke="#2a1f1c" stroke-width="1.5"/>
<text x="553.90" y="433.90" font-size="10.1" text-anchor="middle" fill="#231f20" >402</text>
<text x="597.60" y="433.90" font-size="10.1" text-anchor="middle" fill="#231f20" >39</text>
<text x="634.70" y="433.90" font-size="10.1" text-anchor="middle" fill="#231f20" >62</text>
<text x="532.5" y="362" font-size="8.2" fill="#3050a6" textLength="43.4" lengthAdjust="spacingAndGlyphs">WT vs Y65C</text>
<text x="516.9" y="370.4" font-size="7.9" fill="#3050a6" textLength="74.9" lengthAdjust="spacingAndGlyphs">Distal to Proximal genes</text>
<text x="614.7" y="361.9" font-size="8.4" fill="#a06c46" textLength="54.1" lengthAdjust="spacingAndGlyphs">Control vs cKO</text>
<text x="598.0" y="370.2" font-size="8.8" fill="#a06c46" textLength="86.6" lengthAdjust="spacingAndGlyphs">Distal to Proximal genes</text>
<text x="50.4" y="543.6" font-size="9.3" fill="#231f20" textLength="149.6" lengthAdjust="spacingAndGlyphs">Y65C APA Distal to Proximal genes</text>
<text x="57.60" y="564.43" font-size="9.2" text-anchor="middle" fill="#231f20" font-style="italic">Marcksl1</text>
<text x="126.10" y="564.43" font-size="9.2" text-anchor="middle" fill="#231f20" font-style="italic">Ina</text>
<text x="199.40" y="564.43" font-size="9.2" text-anchor="middle" fill="#231f20" font-style="italic">Pcbp1</text>
<text x="57.60" y="581.08" font-size="9.2" text-anchor="middle" fill="#231f20" font-style="italic">Fzd2</text>
<text x="126.10" y="581.08" font-size="9.2" text-anchor="middle" fill="#231f20" font-style="italic">Mcm4</text>
<text x="199.40" y="581.08" font-size="9.2" text-anchor="middle" fill="#231f20" font-style="italic">Snrpn</text>
<text x="57.60" y="597.73" font-size="9.2" text-anchor="middle" fill="#231f20" font-style="italic">Nampt</text>
<text x="126.10" y="597.73" font-size="9.2" text-anchor="middle" fill="#231f20" font-style="italic">Sos1</text>
<text x="199.40" y="597.73" font-size="9.2" text-anchor="middle" fill="#231f20" font-style="italic">Snrpd1</text>
<text x="57.60" y="614.38" font-size="9.2" text-anchor="middle" fill="#231f20" font-style="italic">Utp3</text>
<text x="126.10" y="614.38" font-size="9.2" text-anchor="middle" fill="#231f20" font-style="italic">Hars</text>
<text x="199.40" y="614.38" font-size="9.2" text-anchor="middle" fill="#231f20" font-style="italic">Snrpe</text>
<text x="57.60" y="631.02" font-size="9.2" text-anchor="middle" fill="#231f20" font-style="italic">Kif11</text>
<text x="126.10" y="631.02" font-size="9.2" text-anchor="middle" fill="#231f20" font-style="italic">Pdk3</text>
<text x="199.40" y="631.02" font-size="9.2" text-anchor="middle" fill="#231f20" font-style="italic">Snrpg</text>
<text x="57.60" y="647.67" font-size="9.2" text-anchor="middle" fill="#231f20" font-style="italic">Ddx19a</text>
<text x="126.10" y="647.67" font-size="9.2" text-anchor="middle" fill="#231f20" font-style="italic">Iws1</text>
<text x="199.40" y="647.67" font-size="9.2" text-anchor="middle" fill="#231f20" font-style="italic">Epdr1</text>
<rect x="20.5" y="529.6" width="210.2" height="122.69999999999993" fill="none" stroke="#1e1a1a" stroke-width="1.25"/>
<line x1="20.5" y1="552.4" x2="230.7" y2="552.4" stroke="#1e1a1a" stroke-width="1.25"/>
<line x1="20.5" y1="569.05" x2="230.7" y2="569.05" stroke="#1e1a1a" stroke-width="1.25"/>
<line x1="20.5" y1="585.70" x2="230.7" y2="585.70" stroke="#1e1a1a" stroke-width="1.25"/>
<line x1="20.5" y1="602.35" x2="230.7" y2="602.35" stroke="#1e1a1a" stroke-width="1.25"/>
<line x1="20.5" y1="619.00" x2="230.7" y2="619.00" stroke="#1e1a1a" stroke-width="1.25"/>
<line x1="20.5" y1="635.65" x2="230.7" y2="635.65" stroke="#1e1a1a" stroke-width="1.25"/>
<line x1="90.3" y1="552.4" x2="90.3" y2="652.3" stroke="#1e1a1a" stroke-width="1.25"/>
<line x1="160.6" y1="552.4" x2="160.6" y2="652.3" stroke="#1e1a1a" stroke-width="1.25"/>
<polygon points="284.02,586.56 284.89,584.46 287.52,583.23 290.15,581.83 292.78,579.73 295.40,576.57 298.03,575.17 299.78,573.95 301.53,570.97 306.26,570.97 306.26,580.95 308.54,580.95 308.54,586.56" fill="#0a0aa8"/>
<polygon points="373.5,587 373.5,577.7 376.1,577.7 376.1,570.1 378.8,569.4 382.3,570.1 385.8,571.2 389.3,570.5 392.8,571.2 394.5,566.3 397.2,563.7 400.7,562.4 404.2,561.4 406.8,561.4 409.4,566.3 412.9,571.2 415.5,573.3 418.2,572.9 419.1,566.3 421.7,561.9 426.1,559.6 427.5,554 429.2,549.6 432.2,549.6 432.7,555.4 440.1,555.8 442.7,558.9 443.6,561.9 447.1,562.4 450.6,565.9 454.1,570.1 461.1,571.9 464.6,573.3 469.9,575 473.4,577.1 476,580.3 478.6,583.8 481.2,586.4 481.2,587" fill="#0a0aa8"/>
<polygon points="284.89,652.72 285.77,649.57 288.40,648.69 291.90,646.94 294.53,644.31 296.28,642.21 298.91,640.81 300.66,639.05 301.53,635.55 306.26,635.55 306.26,645.71 308.54,645.71 308.54,652.72" fill="#0a0aa8"/>
<polygon points="373.5,652.6 373.5,641.7 376.1,632.9 376.1,632 380.5,631.2 384,631.7 386.6,629.4 391.9,628.9 394.5,619.8 397.2,615.4 398.9,609.3 401.5,604.4 406.8,604.4 409.4,609.3 412,618.9 414.7,627.7 415.9,632 418.2,631.2 419.9,623.3 422.6,621.2 426.9,617.2 432.2,617.2 434.8,625.9 440.1,627.7 442.7,632 443.6,635.5 447.1,637.3 450.6,639.9 454.1,642.9 457.6,645.2 463.7,645.7 468.1,647.5 473.4,649.6 478.6,652.2 478.6,652.6" fill="#0a0aa8"/>
<rect x="278.8" y="520.05" width="204.5" height="132.75" fill="none" stroke="#3a3535" stroke-width="1.4"/>
<line x1="278.8" y1="586.8" x2="483.3" y2="586.8" stroke="#3a3535" stroke-width="1.4"/>
<text x="279.70" y="528.90" font-size="8.1" text-anchor="start" fill="#231f20" >40000</text>
<text x="279.90" y="597.00" font-size="8.1" text-anchor="start" fill="#231f20" >40000</text>
<text transform="translate(275.5,553.7) rotate(-90)" font-size="9.0" text-anchor="middle" fill="#231f20">WT</text>
<text transform="translate(275.5,620.0) rotate(-90)" font-size="9.0" text-anchor="middle" fill="#231f20">Y65C</text>
<rect x="278.8" y="659.2" width="21" height="4.2" fill="#0a0aa8"/>
<rect x="299.8" y="657.1" width="6.5" height="8.2" fill="#0a0aa8"/>
<line x1="306" y1="661.2" x2="375" y2="661.2" stroke="#0a0aa8" stroke-width="1.3"/>
<rect x="374.8" y="656.9" width="43.9" height="8.4" fill="#0a0aa8"/>
<rect x="418.5" y="659.2" width="63.6" height="4.4" fill="#0a0aa8"/>
<text x="380.50" y="678.80" font-size="9.2" text-anchor="middle" fill="#231f20" font-style="italic">Marcksl1</text>
<rect x="532" y="522.7" width="14.2" height="4.9" fill="#0a0aa8"/>
<rect x="546" y="520.6" width="4.8" height="9.1" fill="#0a0aa8"/>
<line x1="550.5" y1="524.9" x2="598.5" y2="524.9" stroke="#0a0aa8" stroke-width="1.2"/>
<rect x="598.1" y="520.6" width="29.8" height="9.1" fill="#0a0aa8"/>
<rect x="627.7" y="522.7" width="44" height="4.9" fill="#0a0aa8"/>
<text x="592.50" y="512.80" font-size="7.6" text-anchor="middle" fill="#231f20" >Comm:</text>
<text x="651.20" y="512.80" font-size="7.6" text-anchor="middle" fill="#231f20" >Ext:</text>
<line x1="598.1" y1="518.4" x2="604.6" y2="518.4" stroke="#111" stroke-width="1.5"/>
<polygon points="605.2,519.15 601.0,515.6999999999999 601.0,519.15" fill="#111"/>
<line x1="614.8" y1="531.6" x2="608.6" y2="531.6" stroke="#111" stroke-width="1.5"/>
<polygon points="608.0,530.85 612.2,534.3000000000001 612.2,530.85" fill="#111"/>
<line x1="655.6" y1="520.3" x2="662.5" y2="520.3" stroke="#111" stroke-width="1.5"/>
<polygon points="663.1,521.05 658.9,517.5999999999999 658.9,521.05" fill="#111"/>
<line x1="667.9" y1="530.8" x2="661.7" y2="530.8" stroke="#111" stroke-width="1.5"/>
<polygon points="661.1,530.05 665.3000000000001,533.5 665.3000000000001,530.05" fill="#111"/>
<path d="M580.3,540.60 V656.1 H653.7" fill="none" stroke="#111" stroke-width="1.6"/>
<line x1="575.6999999999999" y1="645.60" x2="580.3" y2="645.60" stroke="#111" stroke-width="1.3"/>
<text x="572.70" y="648.50" font-size="8.0" text-anchor="end" fill="#231f20" >30</text>
<line x1="575.6999999999999" y1="610.80" x2="580.3" y2="610.80" stroke="#111" stroke-width="1.3"/>
<text x="572.70" y="613.70" font-size="8.0" text-anchor="end" fill="#231f20" >60</text>
<line x1="575.6999999999999" y1="576.00" x2="580.3" y2="576.00" stroke="#111" stroke-width="1.3"/>
<text x="572.70" y="578.90" font-size="8.0" text-anchor="end" fill="#231f20" >90</text>
<line x1="575.6999999999999" y1="541.20" x2="580.3" y2="541.20" stroke="#111" stroke-width="1.3"/>
<text x="572.70" y="544.10" font-size="8.0" text-anchor="end" fill="#231f20" >120</text>
<rect x="591.9" y="564.40" width="18" height="91.70" fill="#fff" stroke="#111" stroke-width="1.7"/>
<rect x="623.0" y="583.4" width="18.6" height="72.70" fill="#a3a3a6" stroke="#111" stroke-width="1.7"/>
<circle cx="594.2" cy="564.10" r="1.5" fill="#111"/>
<circle cx="598.5" cy="564.10" r="1.5" fill="#111"/>
<circle cx="602.5" cy="564.10" r="1.5" fill="#111"/>
<circle cx="606.8" cy="564.10" r="1.5" fill="#111"/>
<path d="M627.2,572.7 H636.7 M631.8,572.7 V592.8 M627.2,592.8 H636.7" stroke="#111" stroke-width="1.5"/>
<circle cx="631.8" cy="572.5" r="1.6" fill="#111"/>
<circle cx="631.8" cy="583.9" r="1.6" fill="#111"/>
<circle cx="631.8" cy="592.8" r="1.6" fill="#111"/>
<line x1="600.6" y1="656.1" x2="600.6" y2="660.5" stroke="#111" stroke-width="1.4"/>
<line x1="631.9" y1="656.1" x2="631.9" y2="660.5" stroke="#111" stroke-width="1.4"/>
<path d="M600.9,556.6 V552.9 H632 V564.8" fill="none" stroke="#111" stroke-width="1.7"/>
<text x="616.40" y="555.00" font-size="11" text-anchor="middle" fill="#231f20" >*</text>
<text x="600.60" y="670.70" font-size="9.4" text-anchor="middle" fill="#231f20" >WT</text>
<text x="631.20" y="670.70" font-size="9.4" text-anchor="middle" fill="#231f20" >Y65C</text>
<text x="616.60" y="680.70" font-size="9.3" text-anchor="middle" fill="#231f20" font-style="italic">Marcksl1</text>
<text transform="translate(547.3,599.2) rotate(-90)" font-size="9.4" text-anchor="middle" fill="#231f20">Ext/Comm mRNA</text>
<text transform="translate(558.2,595.9) rotate(-90)" font-size="9.4" text-anchor="middle" fill="#231f20">(Y65C/WT)%</text>
<defs><filter id="bl5" x="-20%" y="-60%" width="140%" height="220%"><feGaussianBlur stdDeviation="0.5"/></filter><filter id="bl7" x="-20%" y="-60%" width="140%" height="220%"><feGaussianBlur stdDeviation="0.7"/></filter><filter id="bl9" x="-20%" y="-60%" width="140%" height="220%"><feGaussianBlur stdDeviation="0.9"/></filter><filter id="bl12" x="-20%" y="-60%" width="140%" height="220%"><feGaussianBlur stdDeviation="1.2"/></filter><filter id="bl15" x="-20%" y="-60%" width="140%" height="220%"><feGaussianBlur stdDeviation="1.5"/></filter></defs>
<rect x="34.3" y="729.9" width="61.3" height="28.10" fill="#a9a9a9"/>
<rect x="97.4" y="729.9" width="120.8" height="28.10" fill="#c2c2c2"/>
<rect x="34.3" y="761.2" width="61.3" height="28.40" fill="#b5b5b5"/>
<rect x="97.4" y="761.2" width="120.8" height="28.40" fill="#bcbcbc"/>
<rect x="34.3" y="792.7" width="61.3" height="27.60" fill="#cdcdcd"/>
<rect x="97.4" y="792.7" width="120.8" height="27.60" fill="#cbcbcb"/>
<rect x="37.90" y="743.70" width="22.30" height="2.60" rx="1.18" fill="#7a7a7a" fill-opacity="0.6" filter="url(#bl7)"/>
<rect x="66.80" y="743.80" width="22.30" height="2.40" rx="1.09" fill="#999" fill-opacity="0.5" filter="url(#bl9)"/>
<rect x="160.50" y="739.60" width="27.10" height="9.60" rx="4.36" fill="#050505" fill-opacity="1" filter="url(#bl9)"/>
<rect x="191.40" y="740.40" width="25.40" height="8.00" rx="3.64" fill="#050505" fill-opacity="1" filter="url(#bl9)"/>
<rect x="38.10" y="772.30" width="23.20" height="8.20" rx="3.73" fill="#050505" fill-opacity="1" filter="url(#bl9)"/>
<rect x="67.80" y="772.30" width="23.30" height="8.20" rx="3.73" fill="#050505" fill-opacity="1" filter="url(#bl9)"/>
<rect x="101.60" y="773.80" width="21.90" height="5.60" rx="2.55" fill="#9a9a9a" fill-opacity="0.5" filter="url(#bl12)"/>
<rect x="131.00" y="773.80" width="23.00" height="5.60" rx="2.55" fill="#9a9a9a" fill-opacity="0.4" filter="url(#bl12)"/>
<rect x="163.00" y="774.30" width="20.80" height="6.40" rx="2.91" fill="#262626" fill-opacity="1" filter="url(#bl9)"/>
<rect x="192.70" y="774.20" width="21.50" height="7.60" rx="3.45" fill="#080808" fill-opacity="1" filter="url(#bl9)"/>
<rect x="103.50" y="803.70" width="24.10" height="7.60" rx="3.45" fill="#060606" fill-opacity="1" filter="url(#bl9)"/>
<rect x="133.00" y="804.00" width="24.60" height="7.00" rx="3.18" fill="#080808" fill-opacity="1" filter="url(#bl9)"/>
<rect x="164.30" y="805.20" width="22.70" height="5.60" rx="2.55" fill="#383838" fill-opacity="1" filter="url(#bl9)"/>
<rect x="193.70" y="804.30" width="22.40" height="7.00" rx="3.18" fill="#080808" fill-opacity="1" filter="url(#bl9)"/>
<text x="65.00" y="711.60" font-size="9.2" text-anchor="middle" fill="#231f20" >Input</text>
<line x1="39.9" y1="715.0" x2="89.8" y2="715.0" stroke="#2b1d1d" stroke-width="1.3"/>
<text x="128.40" y="711.60" font-size="9.2" text-anchor="middle" fill="#231f20" >IgG</text>
<line x1="103.3" y1="715.0" x2="153.7" y2="715.0" stroke="#2b1d1d" stroke-width="1.3"/>
<text x="189.10" y="711.60" font-size="9.2" text-anchor="middle" fill="#231f20" >PQBP1</text>
<line x1="164" y1="715.0" x2="214.3" y2="715.0" stroke="#2b1d1d" stroke-width="1.3"/>
<text x="47.40" y="727.00" font-size="9.2" text-anchor="middle" fill="#231f20" >WT</text>
<text x="77.00" y="727.00" font-size="9.2" text-anchor="middle" fill="#231f20" >Y65C</text>
<text x="110.80" y="727.00" font-size="9.2" text-anchor="middle" fill="#231f20" >WT</text>
<text x="140.00" y="727.00" font-size="9.2" text-anchor="middle" fill="#231f20" >Y65C</text>
<text x="171.60" y="727.00" font-size="9.2" text-anchor="middle" fill="#231f20" >WT</text>
<text x="200.60" y="727.00" font-size="9.2" text-anchor="middle" fill="#231f20" >Y65C</text>
<text x="222.60" y="729.20" font-size="8.2" text-anchor="start" fill="#231f20" >KDa</text>
<line x1="219.3" y1="744.0" x2="225.0" y2="744.0" stroke="#111" stroke-width="1.6"/>
<text x="225.60" y="747.00" font-size="8.2" text-anchor="start" fill="#231f20" >38</text>
<line x1="219.3" y1="775.9" x2="225.0" y2="775.9" stroke="#111" stroke-width="1.6"/>
<text x="225.60" y="778.90" font-size="8.2" text-anchor="start" fill="#231f20" >80</text>
<line x1="219.3" y1="807.2" x2="225.0" y2="807.2" stroke="#111" stroke-width="1.6"/>
<text x="225.60" y="810.20" font-size="8.2" text-anchor="start" fill="#231f20" >55</text>
<text x="30.60" y="748.20" font-size="9.2" text-anchor="end" fill="#231f20" >PQBP1</text>
<text x="30.60" y="779.80" font-size="9.2" text-anchor="end" fill="#231f20" >FIP1L1</text>
<text x="30.60" y="810.70" font-size="9.2" text-anchor="end" fill="#231f20" >IgG</text>
<path d="M276.6,714.60 V823.2 H349.3" fill="none" stroke="#111" stroke-width="1.6"/>
<line x1="272.20000000000005" y1="823.20" x2="276.6" y2="823.20" stroke="#111" stroke-width="1.3"/>
<text x="271.00" y="826.20" font-size="8.3" text-anchor="end" fill="#231f20" >0</text>
<line x1="272.20000000000005" y1="796.20" x2="276.6" y2="796.20" stroke="#111" stroke-width="1.3"/>
<text x="271.00" y="799.20" font-size="8.3" text-anchor="end" fill="#231f20" >1</text>
<line x1="272.20000000000005" y1="769.20" x2="276.6" y2="769.20" stroke="#111" stroke-width="1.3"/>
<text x="271.00" y="772.20" font-size="8.3" text-anchor="end" fill="#231f20" >2</text>
<line x1="272.20000000000005" y1="742.20" x2="276.6" y2="742.20" stroke="#111" stroke-width="1.3"/>
<text x="271.00" y="745.20" font-size="8.3" text-anchor="end" fill="#231f20" >3</text>
<line x1="272.20000000000005" y1="715.20" x2="276.6" y2="715.20" stroke="#111" stroke-width="1.3"/>
<text x="271.00" y="718.20" font-size="8.3" text-anchor="end" fill="#231f20" >4</text>
<rect x="288.3" y="796.20" width="18.8" height="27.00" fill="#fff" stroke="#111" stroke-width="1.7"/>
<rect x="319.0" y="755.60" width="18.9" height="67.60" fill="#a3a3a6" stroke="#111" stroke-width="1.7"/>
<circle cx="291.2" cy="796.20" r="1.7" fill="#111"/>
<circle cx="297.4" cy="796.20" r="1.7" fill="#111"/>
<circle cx="303.8" cy="796.20" r="1.7" fill="#111"/>
<path d="M324.3,739.4 H332.7 M328.5,739.4 V769.4 M324.3,769.4 H332.7" stroke="#111" stroke-width="1.5"/>
<circle cx="328.5" cy="739.4" r="1.7" fill="#111"/>
<circle cx="328.5" cy="757.2" r="1.7" fill="#111"/>
<circle cx="328.5" cy="769.2" r="1.7" fill="#111"/>
<path d="M297.4,789.9 V731.1 H328.2 V737.2" fill="none" stroke="#111" stroke-width="1.3"/>
<text x="313.30" y="732.80" font-size="11" text-anchor="middle" fill="#231f20" >**</text>
<text x="297.60" y="835.40" font-size="8.4" text-anchor="middle" fill="#231f20" >WT</text>
<text x="328.80" y="835.40" font-size="8.4" text-anchor="middle" fill="#231f20" >Y65C</text>
<text transform="translate(259.8,763.2) rotate(-90)" font-size="9.4" text-anchor="middle" fill="#231f20" xml:space="preserve">FIP1L1 relative  level(Y65C/WT)</text>
<line x1="383.8" y1="725.2" x2="518.4" y2="725.2" stroke="#1a1212" stroke-width="1.3"/>
<path d="M388.7,725.2 V717.5 H397.6 M392.6,712.4 L397.9,717.2 L392.6,722.0" fill="none" stroke="#1a1212" stroke-width="1.6"/>
<text x="376.00" y="711.30" font-size="7.5" text-anchor="start" fill="#231f20" >CMV</text>
<rect x="399.6" y="721.9" width="20.5" height="7.7" fill="#0a0aa8"/>
<text x="410.20" y="720.40" font-size="7.6" text-anchor="middle" fill="#231f20" >R luc</text>
<rect x="428.8" y="718.8" width="34.5" height="12.2" fill="#fff" stroke="#2a1d1d" stroke-width="1.3"/>
<text x="446.20" y="727.00" font-size="7.3" text-anchor="middle" fill="#231f20" >polyA site</text>
<path d="M471.3,725.2 A5.7,5.7 0 0,1 482.7,725.2" fill="#fff" stroke="#1a1212" stroke-width="1.3"/>
<line x1="470.6" y1="725.2" x2="483.4" y2="725.2" stroke="#fff" stroke-width="1.6"/>
<text x="477.40" y="716.80" font-size="7.6" text-anchor="middle" fill="#231f20" >IRES</text>
<rect x="493.2" y="722.0" width="17.8" height="7.5" fill="#c40202"/>
<text x="502.80" y="719.30" font-size="7.4" text-anchor="middle" fill="#231f20" >F luc</text>
<rect x="516.9" y="720.8" width="3.8" height="9.2" fill="#111"/>
<line x1="440.3" y1="756.4" x2="465.8" y2="756.4" stroke="#1a1212" stroke-width="1.3"/>
<rect x="445" y="753.10" width="9.6" height="7.0" fill="#0a0aa8"/>
<text x="452.20" y="750.80" font-size="7.4" text-anchor="middle" fill="#231f20" >Flag</text>
<text x="437.7" y="758.70" font-size="7.6" text-anchor="end" fill="#231f20">Flag:</text>
<line x1="440.3" y1="781.9" x2="502.2" y2="781.9" stroke="#1a1212" stroke-width="1.3"/>
<rect x="445" y="778.60" width="9.6" height="7.0" fill="#0a0aa8"/>
<text x="452.20" y="776.30" font-size="7.4" text-anchor="middle" fill="#231f20" >Flag</text>
<rect x="472.3" y="779.00" width="23.6" height="6.3" fill="#fff" stroke="#2a1d1d" stroke-width="1.1"/>
<text x="483.80" y="776.30" font-size="7.4" text-anchor="middle" fill="#231f20" >PQBP1</text>
<text x="437.7" y="784.20" font-size="7.6" text-anchor="end" fill="#231f20">Flag-PQBP1:</text>
<line x1="440.3" y1="807.6" x2="502.2" y2="807.6" stroke="#1a1212" stroke-width="1.3"/>
<rect x="445" y="804.30" width="9.6" height="7.0" fill="#0a0aa8"/>
<text x="452.20" y="802.00" font-size="7.4" text-anchor="middle" fill="#231f20" >Flag</text>
<rect x="472.3" y="804.70" width="23.6" height="6.3" fill="#a8a8a8" stroke="#2a1d1d" stroke-width="1.1"/>
<text x="469.9" y="802.00" font-size="7.4" fill="#231f20">PQBP1<tspan font-size="4.2" dy="-3">Y65C</tspan></text>
<text x="437.7" y="809.90" font-size="7.6" text-anchor="end" fill="#231f20">Flag-PQBP1<tspan font-size="4.4" dy="-3">Y65C</tspan><tspan dy="3">:</tspan></text>
<path d="M584.3,694.80 V807.7 H678.2" fill="none" stroke="#111" stroke-width="1.6"/>
<line x1="579.9" y1="807.70" x2="584.3" y2="807.70" stroke="#111" stroke-width="1.3"/>
<text x="577.90" y="810.70" font-size="8.3" text-anchor="end" fill="#231f20" >60</text>
<line x1="579.9" y1="770.27" x2="584.3" y2="770.27" stroke="#111" stroke-width="1.3"/>
<text x="577.90" y="773.27" font-size="8.3" text-anchor="end" fill="#231f20" >80</text>
<line x1="579.9" y1="732.83" x2="584.3" y2="732.83" stroke="#111" stroke-width="1.3"/>
<text x="577.90" y="735.83" font-size="8.3" text-anchor="end" fill="#231f20" >100</text>
<line x1="579.9" y1="695.40" x2="584.3" y2="695.40" stroke="#111" stroke-width="1.3"/>
<text x="577.90" y="698.40" font-size="8.3" text-anchor="end" fill="#231f20" >120</text>
<rect x="593.90" y="732.83" width="18.00" height="74.87" fill="#0202b2" stroke="#111" stroke-width="1.7"/>
<rect x="621.90" y="760.91" width="18.30" height="46.79" fill="#fff" stroke="#111" stroke-width="1.7"/>
<rect x="650.20" y="717.30" width="18.20" height="90.40" fill="#a3a3a6" stroke="#111" stroke-width="1.7"/>
<circle cx="596.5" cy="732.83" r="1.5" fill="#111"/>
<circle cx="600.5" cy="732.83" r="1.5" fill="#111"/>
<circle cx="604.5" cy="732.83" r="1.5" fill="#111"/>
<circle cx="608.5" cy="732.83" r="1.5" fill="#111"/>
<path d="M626.6,755.4 H634.8 M630.7,755.4 V767.1 M626.6,767.1 H634.8" stroke="#111" stroke-width="1.5"/>
<circle cx="623.5" cy="757.2" r="1.6" fill="#111"/>
<circle cx="627.3" cy="767.1" r="1.6" fill="#111"/>
<circle cx="630.7" cy="760.3" r="1.6" fill="#111"/>
<circle cx="638.6" cy="757.0" r="1.6" fill="#111"/>
<path d="M655,712.4 H663 M659,712.4 V721.9 M655,721.9 H663" stroke="#111" stroke-width="1.5"/>
<circle cx="655.1" cy="715.6" r="1.6" fill="#111"/>
<circle cx="657.4" cy="721.9" r="1.6" fill="#111"/>
<circle cx="661.9" cy="721.9" r="1.6" fill="#111"/>
<circle cx="660.1" cy="712.8" r="1.6" fill="#111"/>
<path d="M602.9,715.1 V702.6 H659 V706.7" fill="none" stroke="#111" stroke-width="1.3"/>
<text x="630.70" y="706.30" font-size="11" text-anchor="middle" fill="#231f20" >***</text>
<path d="M602.9,727.5 V723.4 H630.7 V746.8" fill="none" stroke="#111" stroke-width="1.3"/>
<text x="617.10" y="727.20" font-size="11" text-anchor="middle" fill="#231f20" >****</text>
<line x1="602.7" y1="807.7" x2="602.7" y2="813.3000000000001" stroke="#111" stroke-width="1.4"/>
<line x1="630.8" y1="807.7" x2="630.8" y2="813.3000000000001" stroke="#111" stroke-width="1.4"/>
<line x1="659.0" y1="807.7" x2="659.0" y2="813.3000000000001" stroke="#111" stroke-width="1.4"/>
<text transform="translate(604.6,819.0) rotate(-32)" font-size="7.7" text-anchor="end" fill="#231f20">Flag</text>
<text transform="translate(632.6,819.0) rotate(-32)" font-size="7.7" text-anchor="end" fill="#231f20">Flag-PQBP1</text>
<text transform="translate(661.0,819.0) rotate(-32)" font-size="7.7" text-anchor="end" fill="#231f20">Flag-PQBP1<tspan font-size="4.4" dy="-3">Y65C</tspan></text>
<text transform="translate(561.3,750.2) rotate(-90)" font-size="9.4" text-anchor="middle" fill="#231f20">R/F(PAS activity)%</text>
<text x="0.20" y="7.90" font-size="14.6" text-anchor="start" fill="#000" font-weight="bold">a</text>
<text x="0.40" y="112.80" font-size="14.6" text-anchor="start" fill="#000" font-weight="bold">b</text>
<text x="-0.30" y="336.90" font-size="14.6" text-anchor="start" fill="#000" font-weight="bold">d</text>
<text x="256.90" y="337.60" font-size="14.6" text-anchor="start" fill="#000" font-weight="bold">e</text>
<text x="505.30" y="336.50" font-size="14.6" text-anchor="start" fill="#000" font-weight="bold">f</text>
<text x="-0.20" y="513.90" font-size="14.6" text-anchor="start" fill="#000" font-weight="bold">g</text>
<text x="250.60" y="514.10" font-size="14.6" text-anchor="start" fill="#000" font-weight="bold">h</text>
<text x="519.30" y="513.70" font-size="14.6" text-anchor="start" fill="#000" font-weight="bold">i</text>
<text x="1.20" y="694.60" font-size="14.6" text-anchor="start" fill="#000" font-weight="bold">j</text>
<text x="351.40" y="697.80" font-size="14.6" text-anchor="start" fill="#000" font-weight="bold">k</text>
<text x="539.30" y="697.80" font-size="14.6" text-anchor="start" fill="#000" font-weight="bold">l</text>
</svg></body></html>
